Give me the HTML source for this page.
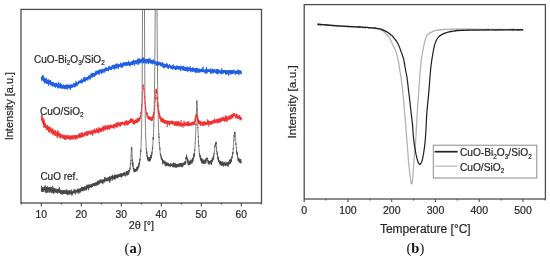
<!DOCTYPE html>
<html><head><meta charset="utf-8"><style>
html,body{margin:0;padding:0;background:#fff;}
svg{display:block;will-change:transform;}
text{font-family:"Liberation Sans",sans-serif;fill:#262626;stroke:#262626;stroke-width:0.2px;}
.serif{font-family:"Liberation Serif",serif;font-weight:bold;fill:#111;stroke:none;}
</style></head><body>
<svg width="550" height="260" viewBox="0 0 550 260">
<rect width="550" height="260" fill="#fff"/>
<defs>
<clipPath id="ca"><rect x="21" y="9.4" width="240.5" height="193.6"/></clipPath>
<clipPath id="cb"><rect x="304.2" y="4.6" width="241.2" height="194.4"/></clipPath>
</defs>

<g clip-path="url(#ca)" fill="none" stroke-linejoin="round">
<polyline stroke="#4a4a4a" stroke-width="0.7" points="41.30,188.5 41.37,189.7 41.44,188.7 41.51,185.7 41.58,189.7 41.65,190.2 41.72,190.1 41.79,191.5 41.86,189.2 41.93,189.9 42.00,191.4 42.07,188.0 42.14,191.7 42.21,191.7 42.28,190.0 42.35,191.9 42.42,190.1 42.49,187.1 42.56,190.6 42.63,189.2 42.70,189.4 42.77,188.9 42.84,191.1 42.91,189.6 42.98,187.5 43.05,189.5 43.12,190.0 43.19,187.5 43.26,188.0 43.33,188.1 43.40,187.7 43.47,189.4 43.54,190.5 43.61,192.0 43.68,190.8 43.75,190.5 43.82,190.8 43.89,191.1 43.96,188.2 44.03,190.0 44.10,189.4 44.17,188.6 44.24,188.1 44.31,188.0 44.38,188.4 44.45,186.8 44.52,189.8 44.59,188.9 44.66,189.1 44.73,189.5 44.80,190.2 44.87,188.0 44.94,188.8 45.01,186.3 45.08,185.3 45.15,185.8 45.22,191.5 45.29,186.0 45.36,189.8 45.43,191.5 45.50,188.3 45.57,191.7 45.64,192.1 45.71,190.6 45.78,192.9 45.85,190.1 45.92,187.9 45.99,190.0 46.06,188.4 46.13,187.0 46.20,187.1 46.27,192.9 46.34,188.3 46.41,189.2 46.48,188.1 46.55,189.4 46.62,188.9 46.69,188.6 46.76,187.3 46.83,187.0 46.90,188.1 46.97,189.8 47.04,192.6 47.11,191.0 47.18,192.2 47.25,190.1 47.32,189.2 47.39,187.3 47.46,189.4 47.53,186.0 47.60,188.9 47.67,191.9 47.74,189.9 47.81,191.2 47.88,188.8 47.95,187.3 48.02,188.7 48.09,188.9 48.16,191.3 48.23,192.5 48.30,188.4 48.37,189.0 48.44,189.3 48.51,189.0 48.58,187.7 48.65,189.7 48.72,190.1 48.79,190.2 48.86,187.8 48.93,189.4 49.00,187.0 49.07,191.0 49.14,188.1 49.21,189.2 49.28,189.0 49.35,188.8 49.42,188.1 49.49,187.1 49.56,192.3 49.63,190.1 49.70,190.1 49.77,192.9 49.84,189.6 49.91,190.6 49.98,189.8 50.05,191.6 50.12,190.6 50.19,190.3 50.26,189.5 50.33,190.3 50.40,191.6 50.47,186.8 50.54,189.7 50.61,189.3 50.68,189.5 50.75,187.0 50.82,191.0 50.89,188.7 50.96,189.6 51.03,189.2 51.10,187.5 51.17,189.3 51.24,187.3 51.31,188.6 51.38,189.6 51.45,190.0 51.52,190.1 51.59,189.9 51.66,193.2 51.73,190.7 51.80,188.3 51.87,189.2 51.94,189.2 52.01,189.9 52.08,189.3 52.15,188.9 52.22,192.5 52.29,190.2 52.36,189.7 52.43,189.9 52.50,189.9 52.57,192.2 52.64,190.9 52.71,191.9 52.78,185.9 52.85,190.7 52.92,191.8 52.99,193.1 53.06,190.4 53.13,187.9 53.20,191.2 53.27,189.5 53.34,187.9 53.41,189.5 53.48,191.9 53.55,192.1 53.62,191.4 53.69,189.0 53.76,194.0 53.83,188.8 53.90,190.4 53.97,188.5 54.04,192.3 54.11,191.1 54.18,191.8 54.25,190.7 54.32,190.5 54.39,190.8 54.46,188.0 54.53,192.0 54.60,191.9 54.67,190.1 54.74,190.6 54.81,191.1 54.88,192.8 54.95,191.3 55.02,190.7 55.09,190.0 55.16,188.7 55.23,189.9 55.30,190.8 55.37,190.4 55.44,190.9 55.51,191.8 55.58,191.4 55.65,191.2 55.72,191.7 55.79,191.1 55.86,190.8 55.93,191.5 56.00,188.5 56.07,192.6 56.14,189.2 56.21,192.0 56.28,190.9 56.35,192.4 56.42,191.0 56.49,189.7 56.56,192.4 56.63,191.2 56.70,191.1 56.77,191.1 56.84,192.4 56.91,192.1 56.98,191.3 57.05,189.0 57.12,190.5 57.19,191.2 57.26,193.5 57.33,191.6 57.40,191.0 57.47,192.7 57.54,191.0 57.61,191.1 57.68,191.4 57.75,189.2 57.82,192.4 57.89,191.8 57.96,190.8 58.03,189.7 58.10,191.5 58.17,193.1 58.24,190.4 58.31,189.9 58.38,191.8 58.45,189.2 58.52,188.4 58.59,190.7 58.66,190.4 58.73,191.0 58.80,190.6 58.87,191.8 58.94,191.1 59.01,190.6 59.08,190.8 59.15,192.2 59.22,192.7 59.29,192.6 59.36,192.3 59.43,187.1 59.50,190.2 59.57,191.1 59.64,191.7 59.71,189.4 59.78,193.3 59.85,191.9 59.92,190.7 59.99,191.8 60.06,191.1 60.13,190.6 60.20,192.2 60.27,191.0 60.34,189.8 60.41,190.8 60.48,191.5 60.55,190.2 60.62,193.3 60.69,190.3 60.76,193.9 60.83,192.8 60.90,190.5 60.97,191.9 61.04,193.2 61.11,191.5 61.18,190.2 61.25,191.9 61.32,194.3 61.39,189.9 61.46,192.5 61.53,191.8 61.60,191.7 61.67,191.3 61.74,191.4 61.81,193.2 61.88,192.6 61.95,190.6 62.02,193.9 62.09,190.2 62.16,192.7 62.23,192.1 62.30,193.4 62.37,192.4 62.44,193.3 62.51,191.9 62.58,193.2 62.65,192.4 62.72,194.7 62.79,191.1 62.86,193.5 62.93,192.6 63.00,192.2 63.07,191.3 63.14,192.6 63.21,190.2 63.28,190.3 63.35,193.0 63.42,190.1 63.49,193.9 63.56,191.7 63.63,192.4 63.70,192.2 63.77,192.6 63.84,191.8 63.91,191.7 63.98,192.0 64.05,193.5 64.12,193.6 64.19,193.8 64.26,192.6 64.33,191.9 64.40,190.1 64.47,193.0 64.54,193.2 64.61,191.7 64.68,193.2 64.75,193.8 64.82,192.3 64.89,193.5 64.96,192.6 65.03,190.1 65.10,191.6 65.17,191.7 65.24,192.9 65.31,191.2 65.38,191.7 65.45,191.1 65.52,192.2 65.59,192.3 65.66,193.5 65.73,193.3 65.80,192.5 65.87,192.6 65.94,192.4 66.01,192.4 66.08,194.2 66.15,189.2 66.22,192.1 66.29,192.7 66.36,193.7 66.43,191.0 66.50,192.7 66.57,193.4 66.64,191.8 66.71,190.0 66.78,191.9 66.85,190.9 66.92,193.1 66.99,191.3 67.06,194.5 67.13,192.5 67.20,191.4 67.27,191.7 67.34,191.0 67.41,192.9 67.48,194.2 67.55,192.1 67.62,193.5 67.69,191.2 67.76,192.8 67.83,195.2 67.90,190.7 67.97,193.9 68.04,193.8 68.11,190.1 68.18,190.7 68.25,191.2 68.32,193.6 68.39,191.9 68.46,192.2 68.53,193.3 68.60,192.6 68.67,192.7 68.74,192.0 68.81,193.8 68.88,191.5 68.95,194.5 69.02,192.0 69.09,191.5 69.16,193.2 69.23,193.0 69.30,190.1 69.37,192.7 69.44,190.8 69.51,191.5 69.58,193.4 69.65,191.4 69.72,192.9 69.79,192.0 69.86,194.8 69.93,192.4 70.00,191.1 70.07,191.1 70.14,191.4 70.21,192.6 70.28,192.5 70.35,193.7 70.42,192.7 70.49,192.6 70.56,192.9 70.63,192.3 70.70,192.8 70.77,193.4 70.84,193.4 70.91,191.8 70.98,190.4 71.05,191.5 71.12,192.8 71.19,189.5 71.26,191.9 71.33,193.0 71.40,191.8 71.47,191.1 71.54,194.6 71.61,194.2 71.68,192.2 71.75,194.1 71.82,194.0 71.89,191.1 71.96,195.7 72.03,191.4 72.10,192.2 72.17,191.2 72.24,192.6 72.31,190.9 72.38,192.5 72.45,193.8 72.52,192.7 72.59,192.1 72.66,194.3 72.73,191.4 72.80,193.6 72.87,192.0 72.94,192.7 73.01,192.4 73.08,192.5 73.15,192.3 73.22,191.4 73.29,191.7 73.36,192.9 73.43,192.2 73.50,190.9 73.57,191.5 73.64,191.5 73.71,192.2 73.78,192.5 73.85,192.4 73.92,191.5 73.99,192.3 74.06,190.6 74.13,188.8 74.20,192.1 74.27,190.2 74.34,191.0 74.41,190.7 74.48,192.9 74.55,190.7 74.62,192.4 74.69,191.5 74.76,190.6 74.83,190.2 74.90,192.6 74.97,192.5 75.04,192.9 75.11,194.1 75.18,192.3 75.25,192.3 75.32,191.8 75.39,192.0 75.46,191.4 75.53,190.8 75.60,194.2 75.67,189.6 75.74,192.1 75.81,192.3 75.88,191.9 75.95,190.6 76.02,191.5 76.09,191.1 76.16,190.4 76.23,191.6 76.30,191.1 76.37,190.9 76.44,192.4 76.51,190.3 76.58,192.0 76.65,190.8 76.72,192.0 76.79,191.5 76.86,191.7 76.93,190.2 77.00,190.5 77.07,190.3 77.14,191.5 77.21,192.2 77.28,192.6 77.35,190.7 77.42,191.3 77.49,189.3 77.56,188.6 77.63,190.1 77.70,190.4 77.77,189.3 77.84,189.0 77.91,191.7 77.98,190.1 78.05,189.0 78.12,193.7 78.19,191.2 78.26,190.6 78.33,191.7 78.40,190.0 78.47,192.7 78.54,189.0 78.61,189.3 78.68,190.6 78.75,189.9 78.82,192.4 78.89,188.8 78.96,189.8 79.03,191.0 79.10,191.3 79.17,191.8 79.24,191.0 79.31,193.2 79.38,190.0 79.45,190.7 79.52,191.5 79.59,190.1 79.66,190.1 79.73,189.9 79.80,189.7 79.87,189.1 79.94,189.7 80.01,188.5 80.08,190.8 80.15,188.4 80.22,192.7 80.29,192.2 80.36,191.5 80.43,190.0 80.50,189.5 80.57,191.6 80.64,190.3 80.71,190.8 80.78,189.2 80.85,191.3 80.92,189.1 80.99,190.1 81.06,188.0 81.13,189.2 81.20,190.5 81.27,189.4 81.34,189.3 81.41,190.8 81.48,189.7 81.55,191.2 81.62,186.9 81.69,190.4 81.76,190.3 81.83,187.9 81.90,188.1 81.97,190.6 82.04,188.3 82.11,188.8 82.18,190.2 82.25,189.1 82.32,190.0 82.39,188.4 82.46,189.8 82.53,190.6 82.60,189.7 82.67,186.8 82.74,190.0 82.81,189.3 82.88,188.2 82.95,190.8 83.02,187.1 83.09,191.3 83.16,188.4 83.23,190.9 83.30,189.0 83.37,187.5 83.44,189.1 83.51,189.3 83.58,189.5 83.65,190.1 83.72,187.8 83.79,189.4 83.86,189.6 83.93,188.4 84.00,187.6 84.07,187.6 84.14,189.5 84.21,189.6 84.28,187.6 84.35,187.0 84.42,190.0 84.49,186.7 84.56,188.6 84.63,187.5 84.70,186.4 84.77,188.5 84.84,188.1 84.91,190.0 84.98,190.9 85.05,188.0 85.12,189.4 85.19,189.4 85.26,187.5 85.33,187.1 85.40,189.9 85.47,187.6 85.54,188.0 85.61,187.6 85.68,187.8 85.75,187.2 85.82,188.7 85.89,189.3 85.96,187.4 86.03,186.2 86.10,187.8 86.17,186.0 86.24,186.9 86.31,189.1 86.38,190.3 86.45,188.0 86.52,186.3 86.59,188.4 86.66,184.9 86.73,186.7 86.80,189.2 86.87,188.3 86.94,185.8 87.01,185.4 87.08,188.3 87.15,187.2 87.22,186.6 87.29,187.7 87.36,186.5 87.43,184.9 87.50,188.1 87.57,186.3 87.64,185.9 87.71,185.5 87.78,187.3 87.85,186.0 87.92,187.7 87.99,186.6 88.06,188.1 88.13,186.4 88.20,186.1 88.27,184.5 88.34,185.5 88.41,187.6 88.48,190.3 88.55,185.2 88.62,185.5 88.69,187.0 88.76,187.2 88.83,185.8 88.90,186.6 88.97,184.7 89.04,186.1 89.11,187.5 89.18,188.3 89.25,186.2 89.32,186.1 89.39,186.9 89.46,187.6 89.53,186.9 89.60,185.4 89.67,186.6 89.74,187.3 89.81,185.4 89.88,184.6 89.95,186.7 90.02,186.5 90.09,187.2 90.16,186.1 90.23,185.3 90.30,185.5 90.37,184.8 90.44,184.8 90.51,185.2 90.58,185.3 90.65,187.1 90.72,184.4 90.79,185.7 90.86,185.1 90.93,187.4 91.00,186.0 91.07,185.2 91.14,186.6 91.21,185.7 91.28,185.0 91.35,187.3 91.42,186.3 91.49,187.5 91.56,186.8 91.63,186.3 91.70,185.6 91.77,184.1 91.84,186.2 91.91,185.4 91.98,186.1 92.05,185.3 92.12,184.5 92.19,184.1 92.26,186.0 92.33,186.7 92.40,184.8 92.47,185.6 92.54,186.7 92.61,184.1 92.68,184.6 92.75,183.7 92.82,186.3 92.89,185.2 92.96,184.4 93.03,183.0 93.10,184.7 93.17,186.0 93.24,184.5 93.31,184.3 93.38,185.5 93.45,183.3 93.52,184.8 93.59,185.4 93.66,183.7 93.73,183.7 93.80,184.9 93.87,184.4 93.94,184.3 94.01,184.7 94.08,184.7 94.15,183.4 94.22,183.7 94.29,184.9 94.36,185.7 94.43,185.9 94.50,183.3 94.57,185.5 94.64,185.1 94.71,184.2 94.78,184.8 94.85,185.1 94.92,186.2 94.99,182.9 95.06,184.8 95.13,183.9 95.20,183.8 95.27,185.3 95.34,184.9 95.41,182.8 95.48,183.6 95.55,184.2 95.62,182.3 95.69,184.8 95.76,183.7 95.83,184.0 95.90,184.2 95.97,185.8 96.04,183.8 96.11,183.3 96.18,185.7 96.25,183.1 96.32,183.0 96.39,182.0 96.46,184.8 96.53,183.8 96.60,184.0 96.67,183.7 96.74,183.3 96.81,182.5 96.88,182.5 96.95,183.9 97.02,183.5 97.09,185.2 97.16,182.4 97.23,182.7 97.30,182.1 97.37,184.8 97.44,181.8 97.51,184.0 97.58,184.8 97.65,182.9 97.72,183.9 97.79,180.6 97.86,182.6 97.93,181.1 98.00,183.2 98.07,182.9 98.14,182.0 98.21,184.0 98.28,183.3 98.35,182.2 98.42,182.2 98.49,181.1 98.56,182.5 98.63,185.1 98.70,181.9 98.77,183.2 98.84,182.0 98.91,183.5 98.98,183.1 99.05,182.3 99.12,180.5 99.19,181.9 99.26,183.9 99.33,182.2 99.40,183.2 99.47,181.9 99.54,180.2 99.61,182.8 99.68,182.7 99.75,181.6 99.82,181.9 99.89,182.6 99.96,181.5 100.03,182.6 100.10,181.9 100.17,179.4 100.24,181.9 100.31,181.4 100.38,181.1 100.45,182.5 100.52,181.4 100.59,182.6 100.66,183.2 100.73,182.1 100.80,180.1 100.87,181.0 100.94,182.9 101.01,181.5 101.08,180.9 101.15,181.7 101.22,182.3 101.29,182.0 101.36,182.4 101.43,180.7 101.50,181.3 101.57,181.3 101.64,181.6 101.71,179.2 101.78,181.3 101.85,180.0 101.92,183.1 101.99,183.2 102.06,183.3 102.13,182.3 102.20,180.8 102.27,182.4 102.34,181.1 102.41,182.0 102.48,180.2 102.55,180.6 102.62,181.7 102.69,183.2 102.76,181.1 102.83,183.7 102.90,184.2 102.97,179.6 103.04,181.0 103.11,179.9 103.18,180.8 103.25,180.4 103.32,180.9 103.39,182.0 103.46,182.0 103.53,181.2 103.60,180.8 103.67,180.9 103.74,180.9 103.81,181.4 103.88,180.7 103.95,181.3 104.02,179.2 104.09,181.6 104.16,182.6 104.23,180.8 104.30,179.0 104.37,182.1 104.44,180.1 104.51,177.1 104.58,180.2 104.65,181.1 104.72,180.9 104.79,181.8 104.86,181.1 104.93,180.5 105.00,178.1 105.07,179.0 105.14,180.5 105.21,181.0 105.28,179.0 105.35,179.5 105.42,180.7 105.49,177.9 105.56,177.9 105.63,179.8 105.70,180.3 105.77,179.5 105.84,177.4 105.91,180.0 105.98,178.4 106.05,180.7 106.12,179.8 106.19,180.2 106.26,180.6 106.33,179.2 106.40,180.7 106.47,181.2 106.54,180.2 106.61,181.2 106.68,179.0 106.75,180.7 106.82,179.9 106.89,178.5 106.96,179.5 107.03,179.0 107.10,178.9 107.17,179.6 107.24,180.7 107.31,179.1 107.38,179.6 107.45,177.7 107.52,179.5 107.59,180.7 107.66,180.3 107.73,179.9 107.80,178.7 107.87,178.2 107.94,179.1 108.01,177.7 108.08,177.8 108.15,180.2 108.22,178.1 108.29,181.2 108.36,177.5 108.43,179.6 108.50,177.7 108.57,179.2 108.64,177.8 108.71,179.0 108.78,178.8 108.85,178.4 108.92,179.5 108.99,180.6 109.06,178.2 109.13,179.8 109.20,178.9 109.27,178.7 109.34,181.3 109.41,176.3 109.48,177.9 109.55,176.6 109.62,178.3 109.69,178.4 109.76,183.0 109.83,179.0 109.90,180.6 109.97,180.0 110.04,178.0 110.11,179.0 110.18,180.4 110.25,178.6 110.32,178.7 110.39,179.0 110.46,176.7 110.53,177.4 110.60,178.7 110.67,178.9 110.74,177.2 110.81,177.9 110.88,178.1 110.95,178.0 111.02,179.0 111.09,178.3 111.16,178.3 111.23,176.5 111.30,176.9 111.37,178.5 111.44,176.2 111.51,178.3 111.58,177.3 111.65,177.1 111.72,178.7 111.79,177.2 111.86,176.9 111.93,177.1 112.00,178.0 112.07,181.0 112.14,175.4 112.21,177.8 112.28,177.5 112.35,178.9 112.42,177.3 112.49,174.9 112.56,179.2 112.63,176.4 112.70,177.6 112.77,176.1 112.84,176.4 112.91,177.0 112.98,178.6 113.05,178.5 113.12,176.8 113.19,178.1 113.26,177.1 113.33,177.6 113.40,177.6 113.47,178.1 113.54,176.7 113.61,177.2 113.68,177.6 113.75,177.4 113.82,176.4 113.89,179.2 113.96,176.7 114.03,178.1 114.10,177.4 114.17,178.6 114.24,174.7 114.31,179.5 114.38,176.9 114.45,175.7 114.52,177.2 114.59,179.6 114.66,177.6 114.73,175.6 114.80,176.5 114.87,178.5 114.94,175.3 115.01,176.7 115.08,176.6 115.15,179.3 115.22,176.5 115.29,178.3 115.36,176.0 115.43,175.9 115.50,177.9 115.57,177.4 115.64,174.7 115.71,177.4 115.78,177.4 115.85,175.9 115.92,176.9 115.99,176.9 116.06,176.0 116.13,175.9 116.20,175.8 116.27,176.2 116.34,175.0 116.41,176.4 116.48,174.7 116.55,176.5 116.62,176.3 116.69,175.2 116.76,177.3 116.83,178.5 116.90,177.8 116.97,174.7 117.04,177.7 117.11,176.5 117.18,176.2 117.25,175.5 117.32,176.2 117.39,177.7 117.46,176.7 117.53,175.6 117.60,175.3 117.67,175.6 117.74,176.7 117.81,178.1 117.88,174.8 117.95,176.0 118.02,175.5 118.09,175.1 118.16,176.4 118.23,176.5 118.30,174.2 118.37,174.7 118.44,177.2 118.51,176.2 118.58,176.4 118.65,175.2 118.72,175.3 118.79,176.2 118.86,175.1 118.93,174.4 119.00,175.6 119.07,176.6 119.14,174.4 119.21,176.8 119.28,176.4 119.35,174.5 119.42,175.5 119.49,175.4 119.56,176.2 119.63,176.2 119.70,173.9 119.77,173.9 119.84,176.6 119.91,175.5 119.98,175.8 120.05,175.7 120.12,177.0 120.19,173.9 120.26,176.5 120.33,174.3 120.40,176.0 120.47,176.7 120.54,173.6 120.61,175.6 120.68,174.8 120.75,174.8 120.82,175.1 120.89,173.9 120.96,173.9 121.03,175.8 121.10,176.0 121.17,174.3 121.24,173.3 121.31,177.6 121.38,176.2 121.45,175.3 121.52,173.7 121.59,174.2 121.66,175.1 121.73,173.7 121.80,176.6 121.87,174.9 121.94,175.2 122.01,173.6 122.08,173.7 122.15,173.8 122.22,175.0 122.29,174.4 122.36,174.3 122.43,175.0 122.50,174.9 122.57,176.3 122.64,174.3 122.71,173.4 122.78,174.5 122.85,176.2 122.92,173.8 122.99,174.5 123.06,174.0 123.13,174.9 123.20,174.7 123.27,173.5 123.34,174.1 123.41,175.4 123.48,175.6 123.55,175.3 123.62,175.3 123.69,173.9 123.76,173.8 123.83,175.3 123.90,172.9 123.97,174.1 124.04,172.1 124.11,173.7 124.18,173.3 124.25,172.7 124.32,174.7 124.39,173.2 124.46,173.6 124.53,173.7 124.60,173.2 124.67,175.6 124.74,173.4 124.81,174.1 124.88,172.4 124.95,173.3 125.02,173.5 125.09,173.5 125.16,173.2 125.23,174.0 125.30,175.5 125.37,173.6 125.44,173.6 125.51,173.3 125.58,176.6 125.65,175.5 125.72,174.3 125.79,174.4 125.86,172.8 125.93,173.4 126.00,173.8 126.07,173.6 126.14,172.5 126.21,172.6 126.28,174.0 126.35,173.8 126.42,171.0 126.49,173.4 126.56,174.7 126.63,172.6 126.70,173.5 126.77,171.6 126.84,174.1 126.91,171.9 126.98,171.7 127.05,172.7 127.12,175.7 127.19,172.3 127.26,171.5 127.33,173.4 127.40,173.1 127.47,174.7 127.54,171.4 127.61,171.0 127.68,172.3 127.75,173.1 127.82,173.0 127.89,173.8 127.96,170.8 128.03,171.5 128.10,172.2 128.17,173.3 128.24,172.8 128.31,171.7 128.38,171.0 128.45,173.0 128.52,173.0 128.59,175.0 128.66,171.6 128.73,173.6 128.80,170.3 128.87,170.9 128.94,170.7 129.01,170.8 129.08,170.2 129.15,170.5 129.22,170.9 129.29,170.3 129.36,171.4 129.43,170.4 129.50,170.3 129.57,171.8 129.64,170.2 129.71,169.8 129.78,169.4 129.85,169.2 129.92,169.5 129.99,167.6 130.06,169.5 130.13,169.6 130.20,168.7 130.27,166.4 130.34,164.6 130.41,165.3 130.48,165.4 130.55,165.4 130.62,163.5 130.69,162.5 130.76,163.7 130.83,160.2 130.90,161.0 130.97,159.6 131.04,155.8 131.11,156.2 131.18,153.8 131.25,152.0 131.32,149.6 131.39,148.6 131.46,149.8 131.53,148.1 131.60,148.4 131.67,146.8 131.74,147.9 131.81,148.6 131.88,148.1 131.95,149.1 132.02,152.8 132.09,153.9 132.16,154.0 132.23,156.4 132.30,158.5 132.37,161.1 132.44,159.2 132.51,161.9 132.58,164.5 132.65,163.1 132.72,165.4 132.79,161.6 132.86,166.7 132.93,165.7 133.00,164.1 133.07,167.5 133.14,168.2 133.21,168.8 133.28,169.1 133.35,168.0 133.42,167.5 133.49,168.0 133.56,168.7 133.63,169.4 133.70,168.6 133.77,169.4 133.84,170.5 133.91,170.0 133.98,172.3 134.05,172.3 134.12,168.6 134.19,169.4 134.26,168.6 134.33,168.9 134.40,170.9 134.47,169.2 134.54,169.2 134.61,170.1 134.68,171.3 134.75,170.1 134.82,170.1 134.89,171.5 134.96,171.1 135.03,171.0 135.10,171.6 135.17,169.4 135.24,170.8 135.31,169.8 135.38,171.7 135.45,171.4 135.52,169.3 135.59,172.0 135.66,169.1 135.73,171.8 135.80,170.6 135.87,169.4 135.94,169.1 136.01,170.0 136.08,170.2 136.15,169.4 136.22,170.8 136.29,168.5 136.36,170.1 136.43,170.0 136.50,167.8 136.57,170.2 136.64,168.4 136.71,166.9 136.78,169.0 136.85,169.4 136.92,170.6 136.99,168.9 137.06,171.0 137.13,170.9 137.20,170.4 137.27,170.6 137.34,169.4 137.41,168.3 137.48,169.5 137.55,169.8 137.62,168.8 137.69,168.1 137.76,166.5 137.83,168.9 137.90,168.4 137.97,166.4 138.04,167.8 138.11,168.4 138.18,167.3 138.25,168.1 138.32,167.9 138.39,165.2 138.46,166.4 138.53,167.1 138.60,167.4 138.67,167.7 138.74,163.7 138.81,165.6 138.88,166.2 138.95,166.5 139.02,166.8 139.09,163.5 139.16,163.9 139.23,162.8 139.30,164.6 139.37,161.9 139.44,164.4 139.51,163.7 139.58,162.8 139.65,159.4 139.72,160.7 139.79,161.8 139.86,158.9 139.93,159.7 140.00,159.3 140.07,159.9 140.14,158.6 140.21,158.0 140.28,156.5 140.35,156.3 140.42,155.3 140.49,155.5 140.56,153.6 140.63,154.0 140.70,149.9 140.77,152.1 140.84,149.4 140.91,149.6 140.98,147.0 141.05,146.4 141.12,145.5 141.19,141.4 141.26,140.2 141.33,137.8 141.40,135.9 141.47,131.3 141.54,130.1 141.61,126.8 141.68,122.7 141.75,119.4 141.82,113.5 141.89,111.8 141.96,105.0 142.03,100.2 142.10,89.6 142.17,80.6 142.24,72.1 142.31,58.0 142.38,46.1 142.45,28.2 142.52,8.1 142.59,-16.3 142.66,-47.9 142.73,-85.4 142.80,-137.9 142.87,-207.3 142.94,-295.6 143.01,-424.6 143.08,-604.4 143.15,-875.9 143.22,-1291.7 143.29,-1944.9 143.36,-2944.8 143.43,-4172.7 143.50,-4829.5 143.57,-4172.4 143.64,-2942.7 143.71,-1948.0 143.78,-1292.5 143.85,-874.2 143.92,-606.8 143.99,-424.1 144.06,-296.1 144.13,-206.6 144.20,-139.9 144.27,-89.2 144.34,-49.9 144.41,-18.4 144.48,7.5 144.55,29.1 144.62,45.6 144.69,57.9 144.76,69.5 144.83,81.1 144.90,86.8 144.97,95.8 145.04,102.3 145.11,107.1 145.18,112.1 145.25,118.0 145.32,119.6 145.39,123.8 145.46,127.2 145.53,130.8 145.60,131.6 145.67,136.6 145.74,137.1 145.81,139.0 145.88,140.5 145.95,141.7 146.02,142.8 146.09,146.5 146.16,146.6 146.23,147.3 146.30,149.5 146.37,148.5 146.44,150.9 146.51,151.0 146.58,150.7 146.65,153.2 146.72,151.3 146.79,154.3 146.86,153.1 146.93,155.1 147.00,156.7 147.07,156.2 147.14,155.2 147.21,156.3 147.28,156.2 147.35,155.6 147.42,156.0 147.49,157.6 147.56,158.4 147.63,156.1 147.70,158.2 147.77,159.1 147.84,158.8 147.91,157.7 147.98,160.2 148.05,157.8 148.12,160.0 148.19,161.2 148.26,157.2 148.33,159.9 148.40,160.1 148.47,160.1 148.54,159.0 148.61,159.6 148.68,158.4 148.75,160.2 148.82,160.7 148.89,159.4 148.96,159.1 149.03,159.6 149.10,160.1 149.17,160.2 149.24,160.0 149.31,160.2 149.38,158.6 149.45,157.0 149.52,160.7 149.59,161.6 149.66,158.3 149.73,159.1 149.80,160.1 149.87,160.8 149.94,160.3 150.01,160.9 150.08,159.3 150.15,159.8 150.22,159.6 150.29,158.6 150.36,160.3 150.43,159.5 150.50,159.7 150.57,158.0 150.64,159.4 150.71,156.9 150.78,158.3 150.85,154.7 150.92,156.3 150.99,158.1 151.06,156.5 151.13,156.9 151.20,154.7 151.27,157.9 151.34,156.6 151.41,155.6 151.48,155.8 151.55,155.3 151.62,156.2 151.69,154.5 151.76,152.2 151.83,153.1 151.90,154.4 151.97,153.2 152.04,151.6 152.11,152.2 152.18,151.1 152.25,151.1 152.32,148.1 152.39,148.2 152.46,149.3 152.53,147.6 152.60,147.5 152.67,148.5 152.74,145.2 152.81,144.9 152.88,143.1 152.95,142.0 153.02,141.6 153.09,139.0 153.16,137.0 153.23,139.7 153.30,136.7 153.37,136.6 153.44,134.0 153.51,132.4 153.58,131.2 153.65,129.4 153.72,125.2 153.79,125.8 153.86,121.0 153.93,119.8 154.00,119.7 154.07,114.0 154.14,112.6 154.21,106.9 154.28,104.3 154.35,99.6 154.42,95.6 154.49,89.4 154.56,84.1 154.63,79.8 154.70,71.5 154.77,65.5 154.84,59.8 154.91,50.3 154.98,41.3 155.05,31.5 155.12,22.6 155.19,10.9 155.26,-0.4 155.33,-13.5 155.40,-24.6 155.47,-41.1 155.54,-57.1 155.61,-69.1 155.68,-83.2 155.75,-96.2 155.82,-110.1 155.89,-117.0 155.96,-125.9 156.03,-130.7 156.10,-134.1 156.17,-130.1 156.24,-126.0 156.31,-116.8 156.38,-108.8 156.45,-97.8 156.52,-83.1 156.59,-70.3 156.66,-54.5 156.73,-41.9 156.80,-26.9 156.87,-13.6 156.94,-0.8 157.01,10.6 157.08,21.4 157.15,32.5 157.22,41.4 157.29,51.0 157.36,58.6 157.43,63.7 157.50,72.9 157.57,80.8 157.64,85.2 157.71,90.8 157.78,95.4 157.85,98.7 157.92,101.8 157.99,107.9 158.06,111.6 158.13,114.3 158.20,117.0 158.27,119.7 158.34,121.7 158.41,124.4 158.48,126.3 158.55,128.6 158.62,129.1 158.69,131.2 158.76,134.1 158.83,134.7 158.90,133.8 158.97,137.9 159.04,136.5 159.11,142.3 159.18,142.1 159.25,143.1 159.32,142.6 159.39,143.0 159.46,144.9 159.53,146.0 159.60,145.9 159.67,147.7 159.74,148.9 159.81,149.5 159.88,148.3 159.95,147.7 160.02,150.6 160.09,150.4 160.16,152.2 160.23,154.0 160.30,154.5 160.37,153.4 160.44,154.7 160.51,155.7 160.58,154.3 160.65,155.0 160.72,156.0 160.79,155.3 160.86,155.1 160.93,155.2 161.00,156.3 161.07,155.9 161.14,157.7 161.21,156.7 161.28,159.0 161.35,158.9 161.42,156.5 161.49,159.2 161.56,157.8 161.63,160.0 161.70,159.2 161.77,158.8 161.84,159.8 161.91,158.6 161.98,159.8 162.05,160.0 162.12,159.6 162.19,160.3 162.26,158.9 162.33,160.8 162.40,159.0 162.47,161.1 162.54,161.1 162.61,161.5 162.68,160.2 162.75,164.3 162.82,160.8 162.89,161.3 162.96,160.4 163.03,162.9 163.10,161.0 163.17,162.7 163.24,160.6 163.31,162.1 163.38,161.4 163.45,163.0 163.52,161.7 163.59,161.2 163.66,162.7 163.73,161.0 163.80,161.3 163.87,163.2 163.94,160.4 164.01,163.4 164.08,162.2 164.15,161.7 164.22,163.0 164.29,163.5 164.36,162.2 164.43,162.7 164.50,163.9 164.57,163.9 164.64,163.0 164.71,162.3 164.78,162.2 164.85,162.6 164.92,164.0 164.99,164.0 165.06,163.7 165.13,165.0 165.20,163.2 165.27,163.1 165.34,163.2 165.41,165.7 165.48,161.4 165.55,164.0 165.62,164.2 165.69,163.8 165.76,166.4 165.83,165.1 165.90,164.7 165.97,162.9 166.04,164.5 166.11,163.6 166.18,164.1 166.25,164.3 166.32,163.6 166.39,164.8 166.46,165.9 166.53,165.3 166.60,164.4 166.67,162.1 166.74,165.4 166.81,165.4 166.88,164.1 166.95,163.8 167.02,165.1 167.09,163.5 167.16,165.3 167.23,163.3 167.30,163.5 167.37,164.5 167.44,162.9 167.51,164.5 167.58,165.1 167.65,163.1 167.72,165.6 167.79,164.0 167.86,165.2 167.93,164.9 168.00,164.2 168.07,164.1 168.14,162.8 168.21,164.0 168.28,163.9 168.35,166.5 168.42,165.9 168.49,163.3 168.56,165.6 168.63,165.0 168.70,164.4 168.77,165.3 168.84,165.7 168.91,164.2 168.98,164.6 169.05,165.1 169.12,163.8 169.19,165.1 169.26,164.8 169.33,164.2 169.40,164.0 169.47,165.3 169.54,165.9 169.61,165.3 169.68,164.1 169.75,165.8 169.82,165.2 169.89,165.7 169.96,166.3 170.03,164.1 170.10,164.9 170.17,164.4 170.24,164.1 170.31,167.2 170.38,166.1 170.45,163.2 170.52,165.6 170.59,164.5 170.66,166.3 170.73,165.2 170.80,164.9 170.87,165.3 170.94,165.6 171.01,165.2 171.08,164.9 171.15,165.0 171.22,165.7 171.29,164.0 171.36,165.2 171.43,165.1 171.50,164.7 171.57,166.0 171.64,163.8 171.71,164.8 171.78,164.3 171.85,165.8 171.92,164.7 171.99,165.3 172.06,165.7 172.13,163.5 172.20,165.7 172.27,164.4 172.34,165.0 172.41,165.1 172.48,166.1 172.55,166.1 172.62,167.2 172.69,165.5 172.76,164.8 172.83,164.7 172.90,166.0 172.97,167.0 173.04,165.7 173.11,164.7 173.18,165.6 173.25,165.6 173.32,165.3 173.39,164.5 173.46,162.6 173.53,164.7 173.60,166.4 173.67,165.5 173.74,162.9 173.81,165.3 173.88,163.3 173.95,167.5 174.02,165.5 174.09,164.0 174.16,166.2 174.23,164.5 174.30,165.9 174.37,165.4 174.44,164.1 174.51,166.0 174.58,163.9 174.65,166.8 174.72,165.4 174.79,164.2 174.86,163.4 174.93,167.1 175.00,166.9 175.07,164.0 175.14,167.1 175.21,165.5 175.28,165.1 175.35,165.2 175.42,165.0 175.49,166.9 175.56,165.5 175.63,163.3 175.70,167.6 175.77,166.3 175.84,164.2 175.91,164.9 175.98,164.3 176.05,165.4 176.12,165.7 176.19,165.6 176.26,164.7 176.33,164.5 176.40,166.2 176.47,165.2 176.54,167.7 176.61,164.4 176.68,166.1 176.75,165.4 176.82,164.5 176.89,166.8 176.96,165.4 177.03,164.3 177.10,164.9 177.17,166.4 177.24,164.0 177.31,166.8 177.38,166.0 177.45,165.0 177.52,166.7 177.59,167.1 177.66,165.9 177.73,165.4 177.80,167.2 177.87,166.9 177.94,164.3 178.01,165.0 178.08,165.0 178.15,164.8 178.22,163.6 178.29,166.2 178.36,165.3 178.43,165.3 178.50,166.7 178.57,164.6 178.64,165.1 178.71,165.5 178.78,164.7 178.85,165.1 178.92,166.0 178.99,165.2 179.06,166.6 179.13,164.4 179.20,165.4 179.27,163.6 179.34,165.0 179.41,164.4 179.48,166.6 179.55,165.9 179.62,165.7 179.69,167.1 179.76,166.7 179.83,165.9 179.90,164.4 179.97,163.5 180.04,165.1 180.11,164.7 180.18,164.4 180.25,164.8 180.32,163.3 180.39,166.7 180.46,163.8 180.53,164.3 180.60,165.6 180.67,163.3 180.74,166.0 180.81,166.0 180.88,164.7 180.95,163.8 181.02,164.5 181.09,163.0 181.16,166.5 181.23,165.0 181.30,164.1 181.37,163.9 181.44,165.5 181.51,166.5 181.58,163.5 181.65,164.2 181.72,162.9 181.79,165.6 181.86,165.0 181.93,167.3 182.00,164.7 182.07,164.3 182.14,164.0 182.21,165.7 182.28,163.0 182.35,165.5 182.42,165.0 182.49,164.1 182.56,163.7 182.63,165.8 182.70,166.7 182.77,164.1 182.84,165.2 182.91,166.5 182.98,163.9 183.05,164.2 183.12,163.2 183.19,164.3 183.26,164.3 183.33,163.9 183.40,163.6 183.47,162.6 183.54,162.8 183.61,163.2 183.68,164.9 183.75,163.6 183.82,163.2 183.89,164.8 183.96,164.7 184.03,163.2 184.10,163.3 184.17,164.6 184.24,164.2 184.31,162.9 184.38,164.0 184.45,163.6 184.52,164.8 184.59,162.5 184.66,164.3 184.73,163.7 184.80,162.1 184.87,164.2 184.94,163.9 185.01,161.4 185.08,164.8 185.15,161.3 185.22,161.3 185.29,161.8 185.36,162.8 185.43,162.4 185.50,161.4 185.57,162.8 185.64,161.5 185.71,162.3 185.78,163.6 185.85,160.4 185.92,157.0 185.99,159.0 186.06,158.0 186.13,159.0 186.20,158.7 186.27,156.9 186.34,156.7 186.41,157.5 186.48,157.4 186.55,154.7 186.62,158.6 186.69,157.6 186.76,157.7 186.83,158.2 186.90,156.9 186.97,158.2 187.04,159.7 187.11,160.1 187.18,159.7 187.25,159.2 187.32,158.8 187.39,161.5 187.46,160.9 187.53,160.1 187.60,158.4 187.67,160.0 187.74,159.1 187.81,162.8 187.88,161.8 187.95,160.9 188.02,161.5 188.09,164.9 188.16,163.5 188.23,160.7 188.30,162.1 188.37,161.0 188.44,160.5 188.51,162.7 188.58,165.3 188.65,164.4 188.72,162.7 188.79,162.3 188.86,163.0 188.93,163.9 189.00,161.2 189.07,160.7 189.14,165.0 189.21,163.2 189.28,164.7 189.35,163.1 189.42,164.5 189.49,162.2 189.56,163.4 189.63,164.6 189.70,164.0 189.77,162.3 189.84,163.9 189.91,162.1 189.98,161.2 190.05,163.4 190.12,164.4 190.19,163.7 190.26,161.3 190.33,163.7 190.40,163.4 190.47,162.1 190.54,159.8 190.61,163.7 190.68,163.5 190.75,163.0 190.82,160.5 190.89,160.7 190.96,163.5 191.03,163.2 191.10,162.8 191.17,161.9 191.24,162.6 191.31,161.4 191.38,161.6 191.45,160.9 191.52,162.2 191.59,161.3 191.66,162.8 191.73,162.5 191.80,160.6 191.87,163.6 191.94,160.1 192.01,161.8 192.08,162.4 192.15,162.5 192.22,158.4 192.29,162.0 192.36,162.1 192.43,162.3 192.50,157.9 192.57,159.6 192.64,160.1 192.71,159.6 192.78,161.5 192.85,159.0 192.92,161.0 192.99,160.1 193.06,157.6 193.13,157.9 193.20,158.3 193.27,158.7 193.34,159.5 193.41,157.9 193.48,158.9 193.55,155.8 193.62,153.9 193.69,156.7 193.76,157.3 193.83,156.0 193.90,154.9 193.97,156.2 194.04,157.5 194.11,154.8 194.18,153.6 194.25,153.0 194.32,155.8 194.39,152.9 194.46,153.1 194.53,153.2 194.60,152.4 194.67,149.5 194.74,150.9 194.81,150.0 194.88,148.8 194.95,148.5 195.02,145.7 195.09,145.3 195.16,143.7 195.23,144.0 195.30,141.1 195.37,141.0 195.44,137.8 195.51,137.4 195.58,135.5 195.65,134.1 195.72,132.5 195.79,130.2 195.86,128.1 195.93,123.8 196.00,125.2 196.07,120.9 196.14,119.0 196.21,115.9 196.28,115.6 196.35,111.0 196.42,110.3 196.49,109.0 196.56,107.6 196.63,105.4 196.70,103.4 196.77,100.3 196.84,102.6 196.91,102.3 196.98,102.2 197.05,102.8 197.12,103.1 197.19,103.8 197.26,107.4 197.33,109.6 197.40,109.1 197.47,113.7 197.54,115.3 197.61,118.4 197.68,120.1 197.75,123.5 197.82,125.7 197.89,127.7 197.96,127.2 198.03,131.8 198.10,132.8 198.17,133.3 198.24,137.0 198.31,136.3 198.38,140.3 198.45,142.6 198.52,141.4 198.59,144.3 198.66,144.9 198.73,146.2 198.80,144.9 198.87,148.0 198.94,148.3 199.01,149.8 199.08,149.7 199.15,151.7 199.22,151.4 199.29,152.5 199.36,153.8 199.43,153.0 199.50,154.5 199.57,154.1 199.64,154.9 199.71,154.1 199.78,156.0 199.85,156.8 199.92,155.7 199.99,157.0 200.06,156.9 200.13,155.5 200.20,157.4 200.27,158.8 200.34,157.0 200.41,155.7 200.48,158.2 200.55,157.5 200.62,160.6 200.69,158.6 200.76,158.8 200.83,158.2 200.90,159.4 200.97,158.6 201.04,158.4 201.11,159.5 201.18,158.8 201.25,161.3 201.32,158.6 201.39,160.0 201.46,159.4 201.53,158.7 201.60,162.3 201.67,158.1 201.74,162.2 201.81,159.1 201.88,160.9 201.95,163.4 202.02,158.5 202.09,159.4 202.16,162.5 202.23,161.3 202.30,160.6 202.37,161.2 202.44,160.2 202.51,161.5 202.58,163.1 202.65,161.0 202.72,161.7 202.79,162.9 202.86,163.8 202.93,161.0 203.00,162.0 203.07,161.1 203.14,161.0 203.21,161.3 203.28,161.1 203.35,159.8 203.42,159.6 203.49,161.0 203.56,162.0 203.63,163.2 203.70,161.3 203.77,161.7 203.84,162.6 203.91,162.7 203.98,161.8 204.05,161.8 204.12,164.0 204.19,161.5 204.26,161.3 204.33,160.1 204.40,162.4 204.47,161.6 204.54,164.0 204.61,161.4 204.68,162.7 204.75,162.8 204.82,163.6 204.89,160.2 204.96,163.4 205.03,161.6 205.10,161.4 205.17,161.1 205.24,161.0 205.31,161.0 205.38,158.7 205.45,161.8 205.52,161.2 205.59,160.0 205.66,160.9 205.73,163.4 205.80,161.1 205.87,160.2 205.94,162.4 206.01,159.4 206.08,160.0 206.15,159.4 206.22,159.6 206.29,160.6 206.36,160.3 206.43,158.7 206.50,159.2 206.57,159.3 206.64,158.6 206.71,159.0 206.78,158.1 206.85,158.0 206.92,158.9 206.99,157.6 207.06,159.3 207.13,158.6 207.20,157.9 207.27,158.3 207.34,158.6 207.41,159.0 207.48,159.5 207.55,159.2 207.62,158.7 207.69,161.4 207.76,160.9 207.83,160.2 207.90,161.3 207.97,160.7 208.04,160.2 208.11,160.7 208.18,163.8 208.25,162.0 208.32,162.2 208.39,160.7 208.46,161.9 208.53,163.8 208.60,161.9 208.67,162.7 208.74,163.0 208.81,162.3 208.88,163.4 208.95,162.0 209.02,162.3 209.09,161.1 209.16,164.8 209.23,162.3 209.30,162.1 209.37,163.5 209.44,161.5 209.51,162.0 209.58,161.2 209.65,162.1 209.72,161.7 209.79,162.7 209.86,162.0 209.93,161.4 210.00,161.8 210.07,162.0 210.14,161.5 210.21,163.1 210.28,162.8 210.35,162.2 210.42,160.7 210.49,162.6 210.56,160.6 210.63,162.2 210.70,162.0 210.77,161.3 210.84,161.0 210.91,161.1 210.98,164.1 211.05,161.5 211.12,161.5 211.19,162.8 211.26,162.1 211.33,162.8 211.40,160.2 211.47,160.3 211.54,165.1 211.61,161.3 211.68,161.0 211.75,161.4 211.82,162.2 211.89,159.7 211.96,161.3 212.03,160.8 212.10,161.5 212.17,160.9 212.24,160.0 212.31,159.5 212.38,157.6 212.45,161.3 212.52,158.4 212.59,159.4 212.66,161.6 212.73,159.1 212.80,160.1 212.87,159.0 212.94,159.8 213.01,158.9 213.08,158.0 213.15,159.9 213.22,157.8 213.29,156.4 213.36,157.3 213.43,157.9 213.50,155.8 213.57,157.6 213.64,157.2 213.71,158.4 213.78,155.0 213.85,156.0 213.92,153.0 213.99,154.0 214.06,154.1 214.13,154.0 214.20,153.0 214.27,152.4 214.34,151.3 214.41,150.9 214.48,151.2 214.55,150.9 214.62,150.4 214.69,150.2 214.76,149.8 214.83,145.8 214.90,146.6 214.97,146.4 215.04,145.3 215.11,146.6 215.18,145.8 215.25,144.3 215.32,144.2 215.39,145.1 215.46,143.0 215.53,142.8 215.60,144.0 215.67,143.4 215.74,144.5 215.81,143.4 215.88,144.0 215.95,142.9 216.02,142.7 216.09,144.2 216.16,141.7 216.23,145.6 216.30,146.7 216.37,146.3 216.44,146.6 216.51,148.7 216.58,148.1 216.65,149.8 216.72,151.8 216.79,150.8 216.86,151.6 216.93,151.7 217.00,152.1 217.07,152.7 217.14,153.0 217.21,154.6 217.28,152.2 217.35,154.1 217.42,155.6 217.49,154.4 217.56,155.6 217.63,155.4 217.70,157.0 217.77,157.8 217.84,158.8 217.91,158.1 217.98,157.1 218.05,158.5 218.12,159.1 218.19,160.3 218.26,156.6 218.33,159.6 218.40,157.5 218.47,160.5 218.54,160.4 218.61,160.6 218.68,161.3 218.75,160.9 218.82,159.9 218.89,161.2 218.96,162.3 219.03,161.0 219.10,161.3 219.17,160.1 219.24,162.8 219.31,161.1 219.38,160.9 219.45,161.4 219.52,161.0 219.59,161.8 219.66,163.6 219.73,163.2 219.80,163.9 219.87,164.1 219.94,161.6 220.01,163.2 220.08,164.4 220.15,165.3 220.22,161.3 220.29,161.4 220.36,163.5 220.43,162.7 220.50,162.0 220.57,163.6 220.64,162.4 220.71,160.8 220.78,163.3 220.85,163.5 220.92,164.1 220.99,164.5 221.06,163.7 221.13,163.3 221.20,162.9 221.27,161.8 221.34,163.2 221.41,164.8 221.48,164.5 221.55,166.0 221.62,163.7 221.69,161.9 221.76,164.8 221.83,165.0 221.90,162.7 221.97,162.2 222.04,164.2 222.11,164.8 222.18,162.8 222.25,163.7 222.32,163.2 222.39,162.8 222.46,162.7 222.53,164.3 222.60,163.7 222.67,163.4 222.74,161.3 222.81,166.1 222.88,163.2 222.95,164.1 223.02,163.0 223.09,164.7 223.16,162.6 223.23,164.4 223.30,164.1 223.37,165.3 223.44,163.1 223.51,163.6 223.58,164.0 223.65,166.6 223.72,162.7 223.79,164.6 223.86,163.6 223.93,164.7 224.00,165.0 224.07,164.5 224.14,164.6 224.21,164.6 224.28,163.7 224.35,164.1 224.42,162.5 224.49,163.9 224.56,163.5 224.63,164.1 224.70,165.1 224.77,164.7 224.84,164.8 224.91,165.5 224.98,161.7 225.05,164.8 225.12,164.3 225.19,164.2 225.26,162.9 225.33,164.9 225.40,165.5 225.47,165.4 225.54,164.2 225.61,165.0 225.68,165.3 225.75,166.2 225.82,165.6 225.89,164.4 225.96,164.3 226.03,164.4 226.10,164.4 226.17,163.6 226.24,165.0 226.31,163.4 226.38,163.2 226.45,164.5 226.52,163.5 226.59,163.8 226.66,161.8 226.73,164.9 226.80,164.0 226.87,163.9 226.94,164.5 227.01,164.2 227.08,163.2 227.15,166.1 227.22,163.4 227.29,165.0 227.36,165.9 227.43,163.2 227.50,163.9 227.57,162.9 227.64,164.9 227.71,163.4 227.78,162.5 227.85,165.1 227.92,164.7 227.99,162.6 228.06,164.9 228.13,163.8 228.20,166.5 228.27,165.4 228.34,162.8 228.41,163.1 228.48,162.4 228.55,163.5 228.62,163.3 228.69,164.1 228.76,163.3 228.83,161.5 228.90,162.2 228.97,164.6 229.04,164.3 229.11,162.8 229.18,162.8 229.25,162.7 229.32,162.8 229.39,160.9 229.46,163.7 229.53,161.9 229.60,162.7 229.67,159.7 229.74,162.7 229.81,163.8 229.88,159.8 229.95,163.9 230.02,162.6 230.09,161.2 230.16,160.2 230.23,163.1 230.30,162.1 230.37,162.3 230.44,161.3 230.51,160.6 230.58,162.3 230.65,160.2 230.72,162.1 230.79,159.2 230.86,159.9 230.93,159.1 231.00,162.0 231.07,158.5 231.14,159.0 231.21,160.9 231.28,160.2 231.35,162.2 231.42,161.6 231.49,160.1 231.56,159.9 231.63,157.0 231.70,157.8 231.77,158.1 231.84,158.1 231.91,156.5 231.98,156.7 232.05,156.5 232.12,158.3 232.19,157.3 232.26,156.1 232.33,155.8 232.40,156.0 232.47,154.5 232.54,154.6 232.61,152.5 232.68,154.7 232.75,154.5 232.82,153.3 232.89,152.9 232.96,152.2 233.03,153.4 233.10,150.7 233.17,148.4 233.24,148.0 233.31,149.1 233.38,148.7 233.45,147.6 233.52,146.8 233.59,145.2 233.66,142.4 233.73,142.3 233.80,140.1 233.87,140.7 233.94,138.6 234.01,139.2 234.08,138.0 234.15,135.0 234.22,137.1 234.29,136.2 234.36,133.0 234.43,134.0 234.50,134.0 234.57,132.4 234.64,133.3 234.71,132.3 234.78,133.1 234.85,132.2 234.92,131.9 234.99,133.0 235.06,133.7 235.13,133.7 235.20,133.6 235.27,133.9 235.34,135.2 235.41,135.9 235.48,137.6 235.55,138.6 235.62,139.3 235.69,140.3 235.76,141.5 235.83,144.0 235.90,144.6 235.97,143.5 236.04,145.5 236.11,145.5 236.18,146.6 236.25,147.3 236.32,147.6 236.39,147.5 236.46,147.0 236.53,150.6 236.60,152.3 236.67,150.6 236.74,152.7 236.81,152.2 236.88,153.5 236.95,152.7 237.02,153.8 237.09,154.4 237.16,152.3 237.23,155.5 237.30,155.5 237.37,153.2 237.44,157.0 237.51,156.5 237.58,157.1 237.65,157.5 237.72,156.9 237.79,156.4 237.86,157.4 237.93,157.6 238.00,160.7 238.07,160.5 238.14,158.1 238.21,158.4 238.28,159.3 238.35,159.8 238.42,158.5 238.49,158.3 238.56,161.7 238.63,160.9 238.70,158.1 238.77,158.0 238.84,159.1 238.91,160.4 238.98,160.9 239.05,160.0 239.12,158.7 239.19,160.8 239.26,161.3 239.33,160.7 239.40,160.2 239.47,161.5 239.54,160.9 239.61,159.7 239.68,161.2 239.75,159.7 239.82,162.2 239.89,161.7 239.96,160.2 240.03,161.6 240.10,162.8 240.17,159.0 240.24,161.3 240.31,163.3 240.38,159.8 240.45,161.4 240.52,160.0 240.59,161.6 240.66,159.0 240.73,159.9 240.80,161.1 240.87,161.9 240.94,162.2 241.01,162.3 241.08,163.1 241.15,162.7 241.22,162.7 241.29,160.8"/>
<polyline stroke="#ec3434" stroke-width="0.75" points="41.30,116.3 41.37,116.1 41.44,119.1 41.51,118.6 41.58,116.9 41.65,118.3 41.72,115.7 41.79,116.8 41.86,114.2 41.93,120.8 42.00,115.4 42.07,120.3 42.14,117.9 42.21,117.9 42.28,119.5 42.35,120.5 42.42,121.4 42.49,123.6 42.56,121.3 42.63,122.4 42.70,119.9 42.77,122.4 42.84,121.6 42.91,120.7 42.98,121.5 43.05,121.7 43.12,122.3 43.19,122.8 43.26,121.4 43.33,121.1 43.40,123.8 43.47,119.7 43.54,121.7 43.61,125.6 43.68,118.4 43.75,122.0 43.82,124.5 43.89,120.7 43.96,128.0 44.03,119.3 44.10,126.3 44.17,126.6 44.24,125.6 44.31,123.8 44.38,124.9 44.45,122.9 44.52,125.9 44.59,122.7 44.66,124.3 44.73,126.5 44.80,123.1 44.87,124.4 44.94,125.4 45.01,123.0 45.08,127.2 45.15,126.0 45.22,123.0 45.29,125.5 45.36,124.4 45.43,124.7 45.50,126.0 45.57,124.8 45.64,127.6 45.71,125.0 45.78,127.8 45.85,126.2 45.92,127.8 45.99,125.6 46.06,125.7 46.13,124.8 46.20,127.7 46.27,128.3 46.34,130.3 46.41,129.0 46.48,127.4 46.55,126.8 46.62,127.8 46.69,127.2 46.76,129.7 46.83,128.9 46.90,126.2 46.97,126.5 47.04,129.8 47.11,128.2 47.18,127.4 47.25,129.7 47.32,127.3 47.39,127.5 47.46,127.3 47.53,125.1 47.60,129.5 47.67,126.4 47.74,127.4 47.81,127.2 47.88,129.6 47.95,128.4 48.02,128.6 48.09,126.0 48.16,128.6 48.23,126.5 48.30,129.3 48.37,129.4 48.44,128.9 48.51,132.1 48.58,129.9 48.65,130.0 48.72,129.4 48.79,128.9 48.86,130.7 48.93,131.0 49.00,127.4 49.07,131.0 49.14,130.3 49.21,131.0 49.28,130.3 49.35,127.8 49.42,127.9 49.49,132.5 49.56,130.2 49.63,127.7 49.70,130.4 49.77,129.4 49.84,127.3 49.91,126.7 49.98,127.7 50.05,130.6 50.12,130.1 50.19,129.9 50.26,130.7 50.33,131.2 50.40,127.3 50.47,130.0 50.54,129.3 50.61,128.7 50.68,129.8 50.75,130.4 50.82,130.3 50.89,128.6 50.96,130.0 51.03,133.7 51.10,129.3 51.17,128.4 51.24,131.3 51.31,131.8 51.38,131.7 51.45,129.4 51.52,132.5 51.59,130.0 51.66,129.5 51.73,130.3 51.80,131.1 51.87,132.3 51.94,132.2 52.01,131.3 52.08,132.7 52.15,131.6 52.22,132.8 52.29,129.5 52.36,129.3 52.43,132.7 52.50,129.7 52.57,131.2 52.64,131.6 52.71,131.1 52.78,131.1 52.85,133.8 52.92,128.3 52.99,133.1 53.06,135.2 53.13,132.0 53.20,132.0 53.27,133.1 53.34,134.6 53.41,130.4 53.48,132.3 53.55,131.9 53.62,133.0 53.69,132.5 53.76,133.2 53.83,131.7 53.90,132.4 53.97,131.4 54.04,131.5 54.11,132.2 54.18,132.3 54.25,130.9 54.32,134.7 54.39,132.4 54.46,130.7 54.53,134.2 54.60,131.6 54.67,133.4 54.74,132.7 54.81,133.1 54.88,133.0 54.95,132.0 55.02,132.9 55.09,135.7 55.16,129.9 55.23,133.1 55.30,133.6 55.37,131.6 55.44,131.2 55.51,136.0 55.58,132.6 55.65,136.0 55.72,133.9 55.79,133.3 55.86,133.9 55.93,134.1 56.00,134.9 56.07,133.9 56.14,133.6 56.21,133.6 56.28,135.3 56.35,134.6 56.42,132.1 56.49,132.7 56.56,134.0 56.63,132.7 56.70,133.1 56.77,132.4 56.84,133.3 56.91,134.3 56.98,135.1 57.05,133.8 57.12,136.6 57.19,133.7 57.26,138.1 57.33,135.2 57.40,134.6 57.47,133.3 57.54,130.2 57.61,133.8 57.68,134.3 57.75,136.6 57.82,132.3 57.89,136.7 57.96,133.8 58.03,135.2 58.10,130.9 58.17,134.4 58.24,133.8 58.31,135.2 58.38,134.5 58.45,132.9 58.52,135.7 58.59,135.4 58.66,135.3 58.73,135.8 58.80,136.0 58.87,134.5 58.94,132.8 59.01,132.8 59.08,136.4 59.15,135.6 59.22,134.9 59.29,134.2 59.36,134.8 59.43,134.9 59.50,134.4 59.57,134.0 59.64,137.7 59.71,135.3 59.78,134.2 59.85,133.3 59.92,134.1 59.99,136.0 60.06,136.1 60.13,134.9 60.20,135.3 60.27,134.8 60.34,133.8 60.41,137.0 60.48,135.8 60.55,138.5 60.62,134.4 60.69,135.2 60.76,136.6 60.83,135.2 60.90,133.7 60.97,134.3 61.04,135.7 61.11,136.0 61.18,135.5 61.25,136.9 61.32,137.0 61.39,136.1 61.46,135.8 61.53,135.4 61.60,136.5 61.67,137.0 61.74,135.9 61.81,136.5 61.88,135.5 61.95,134.1 62.02,134.7 62.09,137.0 62.16,136.6 62.23,138.1 62.30,136.1 62.37,137.2 62.44,137.8 62.51,137.4 62.58,135.4 62.65,136.0 62.72,136.4 62.79,135.0 62.86,136.9 62.93,137.6 63.00,135.7 63.07,138.8 63.14,136.0 63.21,136.1 63.28,136.1 63.35,135.5 63.42,137.0 63.49,136.5 63.56,138.6 63.63,137.3 63.70,137.2 63.77,136.2 63.84,134.8 63.91,136.4 63.98,135.5 64.05,137.8 64.12,136.6 64.19,138.7 64.26,137.6 64.33,137.7 64.40,137.0 64.47,136.9 64.54,137.5 64.61,137.9 64.68,135.8 64.75,137.4 64.82,140.0 64.89,136.7 64.96,136.5 65.03,136.0 65.10,135.0 65.17,138.3 65.24,136.9 65.31,137.2 65.38,139.2 65.45,140.0 65.52,135.8 65.59,138.2 65.66,137.7 65.73,137.5 65.80,137.6 65.87,137.0 65.94,139.0 66.01,137.8 66.08,137.5 66.15,138.6 66.22,138.2 66.29,137.7 66.36,137.5 66.43,139.3 66.50,137.8 66.57,137.0 66.64,136.1 66.71,136.7 66.78,135.9 66.85,137.3 66.92,137.5 66.99,134.7 67.06,137.3 67.13,138.0 67.20,137.5 67.27,136.1 67.34,138.8 67.41,136.4 67.48,135.8 67.55,136.0 67.62,137.3 67.69,138.6 67.76,138.8 67.83,137.6 67.90,135.9 67.97,136.6 68.04,136.3 68.11,137.2 68.18,135.2 68.25,137.6 68.32,138.2 68.39,137.3 68.46,138.0 68.53,136.3 68.60,135.7 68.67,136.7 68.74,138.9 68.81,138.7 68.88,136.9 68.95,139.0 69.02,137.1 69.09,139.4 69.16,138.1 69.23,137.0 69.30,138.5 69.37,136.6 69.44,136.4 69.51,135.8 69.58,137.9 69.65,137.5 69.72,137.5 69.79,137.1 69.86,139.3 69.93,137.1 70.00,136.7 70.07,139.1 70.14,139.3 70.21,138.0 70.28,135.5 70.35,136.9 70.42,138.3 70.49,137.6 70.56,139.5 70.63,135.9 70.70,138.4 70.77,136.8 70.84,139.2 70.91,137.5 70.98,138.8 71.05,136.8 71.12,135.9 71.19,136.2 71.26,136.8 71.33,136.3 71.40,139.0 71.47,139.1 71.54,137.9 71.61,136.3 71.68,137.4 71.75,136.7 71.82,139.3 71.89,137.9 71.96,138.1 72.03,137.0 72.10,135.0 72.17,136.5 72.24,136.1 72.31,137.9 72.38,137.5 72.45,136.5 72.52,136.9 72.59,139.3 72.66,136.2 72.73,136.3 72.80,137.1 72.87,136.5 72.94,136.8 73.01,138.0 73.08,139.4 73.15,135.2 73.22,137.3 73.29,137.3 73.36,137.2 73.43,137.0 73.50,136.8 73.57,138.4 73.64,136.7 73.71,137.1 73.78,137.2 73.85,137.3 73.92,137.0 73.99,138.4 74.06,137.1 74.13,137.3 74.20,137.1 74.27,135.9 74.34,136.1 74.41,135.8 74.48,137.3 74.55,136.2 74.62,135.8 74.69,137.3 74.76,137.6 74.83,134.9 74.90,139.0 74.97,137.0 75.04,136.8 75.11,138.2 75.18,137.0 75.25,136.2 75.32,139.5 75.39,135.6 75.46,136.8 75.53,137.9 75.60,135.6 75.67,136.7 75.74,137.3 75.81,139.7 75.88,135.7 75.95,136.7 76.02,137.6 76.09,136.9 76.16,135.3 76.23,137.2 76.30,136.8 76.37,137.2 76.44,138.0 76.51,137.9 76.58,137.1 76.65,137.0 76.72,135.3 76.79,136.4 76.86,136.9 76.93,136.1 77.00,136.7 77.07,135.6 77.14,138.3 77.21,139.1 77.28,136.0 77.35,136.9 77.42,136.2 77.49,137.9 77.56,136.9 77.63,136.5 77.70,136.1 77.77,136.5 77.84,135.2 77.91,137.1 77.98,135.5 78.05,136.9 78.12,136.4 78.19,137.5 78.26,136.2 78.33,137.4 78.40,135.1 78.47,136.9 78.54,135.9 78.61,136.4 78.68,136.2 78.75,137.2 78.82,133.7 78.89,136.4 78.96,134.3 79.03,137.4 79.10,133.7 79.17,134.8 79.24,134.0 79.31,137.9 79.38,134.4 79.45,136.0 79.52,135.2 79.59,133.7 79.66,135.4 79.73,136.6 79.80,135.6 79.87,136.9 79.94,135.3 80.01,135.7 80.08,135.2 80.15,136.1 80.22,137.9 80.29,136.1 80.36,135.8 80.43,134.9 80.50,134.7 80.57,137.3 80.64,134.2 80.71,134.4 80.78,135.4 80.85,135.0 80.92,137.7 80.99,132.6 81.06,135.8 81.13,136.2 81.20,134.1 81.27,134.6 81.34,135.8 81.41,137.2 81.48,134.2 81.55,133.4 81.62,136.4 81.69,137.0 81.76,134.8 81.83,132.6 81.90,136.9 81.97,134.9 82.04,136.5 82.11,135.1 82.18,134.7 82.25,134.5 82.32,136.8 82.39,136.7 82.46,132.5 82.53,133.9 82.60,137.1 82.67,134.5 82.74,133.3 82.81,134.9 82.88,134.8 82.95,134.8 83.02,134.3 83.09,134.5 83.16,134.3 83.23,135.2 83.30,133.8 83.37,134.4 83.44,134.6 83.51,136.3 83.58,135.1 83.65,134.6 83.72,135.3 83.79,135.1 83.86,135.9 83.93,135.2 84.00,136.7 84.07,136.1 84.14,134.5 84.21,134.0 84.28,135.5 84.35,135.1 84.42,134.4 84.49,132.7 84.56,132.3 84.63,134.8 84.70,135.3 84.77,135.3 84.84,132.8 84.91,135.5 84.98,133.7 85.05,134.7 85.12,134.8 85.19,133.3 85.26,133.5 85.33,131.8 85.40,133.1 85.47,132.1 85.54,134.7 85.61,134.2 85.68,135.2 85.75,134.5 85.82,133.3 85.89,134.4 85.96,133.6 86.03,134.7 86.10,134.4 86.17,132.8 86.24,133.9 86.31,134.0 86.38,133.5 86.45,134.9 86.52,135.9 86.59,133.4 86.66,133.4 86.73,131.2 86.80,133.6 86.87,133.3 86.94,131.2 87.01,134.1 87.08,134.4 87.15,132.8 87.22,133.2 87.29,132.5 87.36,134.5 87.43,131.8 87.50,133.2 87.57,135.8 87.64,133.6 87.71,134.1 87.78,133.3 87.85,132.1 87.92,133.4 87.99,133.9 88.06,132.2 88.13,133.8 88.20,134.8 88.27,134.6 88.34,131.5 88.41,132.2 88.48,131.4 88.55,134.5 88.62,134.0 88.69,134.0 88.76,132.2 88.83,131.8 88.90,133.3 88.97,133.3 89.04,132.1 89.11,133.3 89.18,133.8 89.25,133.3 89.32,131.8 89.39,130.6 89.46,132.7 89.53,133.2 89.60,132.7 89.67,132.4 89.74,132.1 89.81,133.7 89.88,132.8 89.95,133.0 90.02,131.7 90.09,132.1 90.16,133.0 90.23,131.6 90.30,131.3 90.37,132.4 90.44,134.1 90.51,132.9 90.58,134.4 90.65,132.5 90.72,132.3 90.79,131.0 90.86,131.9 90.93,134.2 91.00,132.9 91.07,133.4 91.14,133.3 91.21,132.5 91.28,132.2 91.35,132.6 91.42,133.2 91.49,132.9 91.56,133.0 91.63,132.6 91.70,131.5 91.77,132.0 91.84,131.2 91.91,133.5 91.98,129.8 92.05,132.0 92.12,135.0 92.19,131.8 92.26,130.9 92.33,132.1 92.40,133.6 92.47,131.9 92.54,132.8 92.61,132.2 92.68,131.6 92.75,135.7 92.82,132.1 92.89,131.4 92.96,131.4 93.03,132.4 93.10,132.4 93.17,132.8 93.24,132.1 93.31,130.2 93.38,132.5 93.45,131.5 93.52,131.5 93.59,130.1 93.66,131.1 93.73,130.9 93.80,131.7 93.87,130.0 93.94,131.8 94.01,131.8 94.08,130.4 94.15,130.9 94.22,130.6 94.29,132.6 94.36,128.6 94.43,131.2 94.50,129.6 94.57,131.0 94.64,132.5 94.71,130.7 94.78,131.6 94.85,130.5 94.92,133.7 94.99,132.4 95.06,132.7 95.13,129.8 95.20,130.1 95.27,132.6 95.34,131.1 95.41,131.0 95.48,131.6 95.55,129.8 95.62,132.1 95.69,131.2 95.76,131.7 95.83,130.4 95.90,131.7 95.97,130.3 96.04,132.2 96.11,132.4 96.18,132.1 96.25,131.6 96.32,131.7 96.39,127.9 96.46,131.9 96.53,130.6 96.60,131.0 96.67,130.6 96.74,129.3 96.81,130.2 96.88,131.6 96.95,132.5 97.02,130.1 97.09,129.7 97.16,132.4 97.23,129.7 97.30,133.1 97.37,130.8 97.44,129.7 97.51,131.8 97.58,132.6 97.65,129.0 97.72,132.4 97.79,130.2 97.86,132.3 97.93,130.1 98.00,128.7 98.07,131.1 98.14,131.5 98.21,132.9 98.28,132.4 98.35,131.2 98.42,130.1 98.49,129.8 98.56,130.0 98.63,129.4 98.70,130.0 98.77,127.3 98.84,130.5 98.91,130.2 98.98,133.2 99.05,131.1 99.12,129.6 99.19,130.8 99.26,128.7 99.33,129.4 99.40,127.9 99.47,131.7 99.54,130.7 99.61,128.7 99.68,129.9 99.75,131.1 99.82,130.5 99.89,130.4 99.96,128.9 100.03,129.2 100.10,130.0 100.17,130.9 100.24,128.9 100.31,128.5 100.38,131.1 100.45,128.7 100.52,131.0 100.59,130.0 100.66,130.7 100.73,131.7 100.80,130.5 100.87,130.5 100.94,128.6 101.01,128.8 101.08,130.3 101.15,131.3 101.22,131.1 101.29,132.2 101.36,129.8 101.43,129.7 101.50,130.6 101.57,129.4 101.64,129.3 101.71,128.2 101.78,130.5 101.85,128.1 101.92,129.9 101.99,127.7 102.06,130.5 102.13,128.1 102.20,130.2 102.27,127.4 102.34,128.7 102.41,130.5 102.48,128.2 102.55,129.2 102.62,128.5 102.69,126.4 102.76,129.4 102.83,129.5 102.90,127.7 102.97,129.6 103.04,128.0 103.11,127.8 103.18,128.9 103.25,128.1 103.32,131.5 103.39,127.1 103.46,129.7 103.53,130.0 103.60,126.5 103.67,126.8 103.74,129.4 103.81,128.2 103.88,129.2 103.95,130.0 104.02,128.2 104.09,127.4 104.16,125.5 104.23,128.8 104.30,127.5 104.37,128.9 104.44,128.8 104.51,126.9 104.58,130.5 104.65,129.7 104.72,129.4 104.79,127.1 104.86,127.9 104.93,127.8 105.00,127.9 105.07,127.0 105.14,128.8 105.21,128.6 105.28,128.7 105.35,127.7 105.42,129.7 105.49,128.4 105.56,125.0 105.63,127.4 105.70,128.1 105.77,129.2 105.84,127.8 105.91,127.8 105.98,127.3 106.05,128.8 106.12,127.5 106.19,127.3 106.26,127.1 106.33,128.6 106.40,127.3 106.47,126.0 106.54,128.6 106.61,127.1 106.68,128.3 106.75,128.3 106.82,129.2 106.89,129.0 106.96,127.1 107.03,127.6 107.10,126.3 107.17,129.7 107.24,128.2 107.31,129.3 107.38,127.3 107.45,125.3 107.52,129.4 107.59,127.7 107.66,127.7 107.73,127.6 107.80,128.3 107.87,128.1 107.94,125.7 108.01,128.7 108.08,126.8 108.15,126.9 108.22,129.4 108.29,128.5 108.36,127.0 108.43,125.2 108.50,127.5 108.57,127.9 108.64,127.2 108.71,125.8 108.78,126.3 108.85,125.8 108.92,127.5 108.99,128.1 109.06,128.4 109.13,126.3 109.20,127.4 109.27,127.8 109.34,126.5 109.41,126.9 109.48,129.5 109.55,127.3 109.62,128.0 109.69,126.5 109.76,127.0 109.83,125.0 109.90,126.9 109.97,128.3 110.04,129.3 110.11,128.3 110.18,127.7 110.25,126.9 110.32,126.1 110.39,126.6 110.46,127.5 110.53,125.9 110.60,127.8 110.67,125.6 110.74,124.7 110.81,125.5 110.88,124.8 110.95,125.1 111.02,127.9 111.09,126.4 111.16,126.9 111.23,127.9 111.30,128.0 111.37,126.0 111.44,128.1 111.51,127.0 111.58,126.5 111.65,127.0 111.72,124.8 111.79,125.5 111.86,126.3 111.93,127.1 112.00,126.0 112.07,126.2 112.14,127.5 112.21,128.0 112.28,127.2 112.35,127.8 112.42,125.8 112.49,125.9 112.56,126.6 112.63,125.9 112.70,125.6 112.77,128.1 112.84,125.9 112.91,125.0 112.98,126.7 113.05,128.2 113.12,126.2 113.19,127.5 113.26,125.6 113.33,125.5 113.40,125.2 113.47,125.8 113.54,128.1 113.61,124.6 113.68,127.8 113.75,124.8 113.82,125.6 113.89,126.8 113.96,126.6 114.03,126.2 114.10,123.9 114.17,126.2 114.24,124.6 114.31,128.7 114.38,125.5 114.45,125.9 114.52,124.4 114.59,125.1 114.66,124.2 114.73,126.8 114.80,125.3 114.87,126.2 114.94,124.8 115.01,125.0 115.08,127.0 115.15,124.4 115.22,123.4 115.29,125.9 115.36,124.1 115.43,124.9 115.50,126.5 115.57,124.4 115.64,126.4 115.71,124.6 115.78,127.0 115.85,126.8 115.92,124.7 115.99,125.0 116.06,124.3 116.13,125.5 116.20,126.5 116.27,123.5 116.34,126.2 116.41,123.6 116.48,124.1 116.55,123.0 116.62,127.5 116.69,125.1 116.76,125.3 116.83,124.2 116.90,126.2 116.97,122.6 117.04,125.0 117.11,127.5 117.18,124.5 117.25,124.9 117.32,125.6 117.39,123.9 117.46,124.9 117.53,125.9 117.60,125.0 117.67,125.2 117.74,124.3 117.81,125.1 117.88,124.8 117.95,126.4 118.02,125.5 118.09,124.4 118.16,121.8 118.23,125.4 118.30,125.5 118.37,123.5 118.44,122.2 118.51,123.2 118.58,125.6 118.65,123.3 118.72,123.9 118.79,124.7 118.86,125.8 118.93,124.4 119.00,124.3 119.07,123.7 119.14,126.2 119.21,125.6 119.28,124.2 119.35,122.7 119.42,123.4 119.49,124.9 119.56,123.4 119.63,125.2 119.70,124.6 119.77,124.5 119.84,124.9 119.91,124.7 119.98,123.1 120.05,123.7 120.12,126.8 120.19,122.7 120.26,123.5 120.33,125.2 120.40,123.8 120.47,123.0 120.54,122.4 120.61,124.6 120.68,125.1 120.75,125.5 120.82,124.0 120.89,125.1 120.96,122.7 121.03,124.0 121.10,123.0 121.17,124.0 121.24,124.6 121.31,125.0 121.38,122.6 121.45,125.2 121.52,123.2 121.59,122.5 121.66,123.5 121.73,122.0 121.80,123.7 121.87,124.0 121.94,123.4 122.01,124.2 122.08,123.2 122.15,123.6 122.22,121.9 122.29,123.6 122.36,122.5 122.43,123.0 122.50,123.4 122.57,123.7 122.64,121.6 122.71,121.6 122.78,123.1 122.85,124.0 122.92,123.8 122.99,124.4 123.06,124.9 123.13,123.9 123.20,123.3 123.27,122.1 123.34,122.2 123.41,122.8 123.48,123.6 123.55,123.5 123.62,123.3 123.69,123.1 123.76,124.0 123.83,123.5 123.90,123.5 123.97,123.5 124.04,122.5 124.11,122.0 124.18,123.7 124.25,123.6 124.32,122.9 124.39,122.6 124.46,125.7 124.53,122.2 124.60,122.8 124.67,123.4 124.74,121.7 124.81,123.2 124.88,125.1 124.95,124.1 125.02,123.7 125.09,123.7 125.16,123.1 125.23,124.1 125.30,122.8 125.37,122.5 125.44,123.1 125.51,124.0 125.58,123.3 125.65,123.7 125.72,120.6 125.79,124.3 125.86,125.6 125.93,124.4 126.00,122.5 126.07,121.9 126.14,123.1 126.21,121.7 126.28,123.6 126.35,122.2 126.42,123.9 126.49,124.3 126.56,120.4 126.63,123.1 126.70,121.9 126.77,121.1 126.84,122.0 126.91,122.5 126.98,123.9 127.05,120.9 127.12,123.9 127.19,125.0 127.26,123.3 127.33,123.3 127.40,122.6 127.47,121.2 127.54,123.2 127.61,123.0 127.68,123.4 127.75,125.5 127.82,123.3 127.89,123.0 127.96,124.3 128.03,120.9 128.10,121.1 128.17,122.0 128.24,121.6 128.31,123.2 128.38,122.0 128.45,124.3 128.52,124.0 128.59,123.1 128.66,121.8 128.73,122.9 128.80,123.1 128.87,120.9 128.94,122.5 129.01,122.8 129.08,122.2 129.15,123.7 129.22,123.3 129.29,120.9 129.36,121.9 129.43,120.7 129.50,122.3 129.57,120.6 129.64,122.6 129.71,121.9 129.78,122.5 129.85,121.1 129.92,119.5 129.99,123.2 130.06,120.9 130.13,122.6 130.20,121.4 130.27,121.6 130.34,122.9 130.41,121.1 130.48,122.2 130.55,118.8 130.62,121.5 130.69,120.1 130.76,120.2 130.83,120.4 130.90,120.7 130.97,122.2 131.04,118.2 131.11,120.4 131.18,119.5 131.25,121.7 131.32,119.9 131.39,121.0 131.46,120.0 131.53,121.3 131.60,121.8 131.67,120.2 131.74,120.8 131.81,119.2 131.88,121.2 131.95,121.9 132.02,120.4 132.09,122.4 132.16,118.7 132.23,119.1 132.30,119.7 132.37,120.8 132.44,121.4 132.51,121.3 132.58,121.4 132.65,122.3 132.72,121.0 132.79,120.1 132.86,120.2 132.93,124.1 133.00,119.0 133.07,121.5 133.14,123.4 133.21,122.3 133.28,120.9 133.35,121.8 133.42,122.9 133.49,123.3 133.56,120.9 133.63,122.8 133.70,122.2 133.77,123.2 133.84,123.5 133.91,121.6 133.98,120.3 134.05,122.4 134.12,124.0 134.19,122.8 134.26,122.3 134.33,124.8 134.40,120.8 134.47,123.0 134.54,121.3 134.61,122.0 134.68,122.1 134.75,123.7 134.82,120.9 134.89,121.4 134.96,120.1 135.03,122.5 135.10,121.4 135.17,122.4 135.24,120.7 135.31,121.5 135.38,123.1 135.45,121.7 135.52,122.6 135.59,122.5 135.66,121.5 135.73,120.1 135.80,123.0 135.87,122.0 135.94,122.9 136.01,119.5 136.08,119.9 136.15,119.3 136.22,120.7 136.29,122.9 136.36,122.3 136.43,121.6 136.50,121.8 136.57,122.5 136.64,121.3 136.71,122.0 136.78,121.7 136.85,119.0 136.92,121.0 136.99,123.0 137.06,121.0 137.13,121.2 137.20,120.7 137.27,120.8 137.34,122.6 137.41,120.9 137.48,120.0 137.55,117.6 137.62,120.5 137.69,118.8 137.76,118.9 137.83,121.9 137.90,121.8 137.97,118.7 138.04,121.8 138.11,121.3 138.18,119.8 138.25,121.5 138.32,118.7 138.39,119.1 138.46,118.8 138.53,119.1 138.60,121.3 138.67,118.7 138.74,118.8 138.81,119.0 138.88,120.2 138.95,119.5 139.02,120.8 139.09,118.9 139.16,118.1 139.23,118.9 139.30,119.4 139.37,118.2 139.44,119.5 139.51,121.1 139.58,118.2 139.65,118.8 139.72,120.1 139.79,117.7 139.86,117.3 139.93,116.8 140.00,118.3 140.07,118.3 140.14,117.3 140.21,117.3 140.28,118.5 140.35,117.8 140.42,114.9 140.49,116.3 140.56,116.1 140.63,116.5 140.70,115.1 140.77,114.3 140.84,114.2 140.91,112.3 140.98,113.9 141.05,112.8 141.12,113.6 141.19,111.4 141.26,111.5 141.33,110.3 141.40,109.7 141.47,111.1 141.54,109.1 141.61,109.4 141.68,106.8 141.75,107.4 141.82,104.5 141.89,105.0 141.96,104.0 142.03,104.3 142.10,102.8 142.17,101.2 142.24,101.2 142.31,99.3 142.38,98.4 142.45,97.4 142.52,95.1 142.59,93.5 142.66,92.9 142.73,90.8 142.80,90.5 142.87,90.2 142.94,88.9 143.01,86.6 143.08,84.8 143.15,85.6 143.22,85.2 143.29,86.5 143.36,84.8 143.43,85.1 143.50,86.4 143.57,85.4 143.64,86.2 143.71,88.8 143.78,89.1 143.85,88.8 143.92,89.1 143.99,88.4 144.06,91.0 144.13,91.2 144.20,92.3 144.27,92.3 144.34,93.8 144.41,94.4 144.48,95.9 144.55,98.1 144.62,97.7 144.69,96.3 144.76,97.9 144.83,98.0 144.90,99.7 144.97,102.1 145.04,102.6 145.11,102.2 145.18,103.9 145.25,103.4 145.32,103.3 145.39,103.9 145.46,105.2 145.53,108.4 145.60,105.7 145.67,109.2 145.74,109.9 145.81,108.6 145.88,109.2 145.95,109.0 146.02,110.1 146.09,111.3 146.16,111.0 146.23,112.5 146.30,113.0 146.37,112.4 146.44,112.7 146.51,112.6 146.58,113.4 146.65,112.0 146.72,114.0 146.79,114.0 146.86,113.0 146.93,116.7 147.00,113.4 147.07,113.7 147.14,115.2 147.21,112.9 147.28,114.4 147.35,113.7 147.42,114.6 147.49,115.7 147.56,116.4 147.63,117.4 147.70,117.2 147.77,117.8 147.84,117.3 147.91,116.2 147.98,118.1 148.05,116.4 148.12,116.4 148.19,118.9 148.26,118.2 148.33,117.6 148.40,118.3 148.47,118.6 148.54,116.1 148.61,117.6 148.68,116.5 148.75,118.0 148.82,117.2 148.89,119.6 148.96,118.7 149.03,117.2 149.10,118.2 149.17,116.9 149.24,118.4 149.31,119.0 149.38,118.8 149.45,116.3 149.52,118.2 149.59,119.2 149.66,119.0 149.73,120.0 149.80,117.2 149.87,119.3 149.94,118.0 150.01,119.0 150.08,119.3 150.15,119.6 150.22,118.2 150.29,119.1 150.36,117.5 150.43,117.3 150.50,119.5 150.57,118.8 150.64,117.0 150.71,117.9 150.78,118.9 150.85,120.7 150.92,120.1 150.99,119.8 151.06,116.8 151.13,118.7 151.20,119.4 151.27,119.3 151.34,119.3 151.41,118.5 151.48,120.8 151.55,120.4 151.62,118.6 151.69,117.5 151.76,121.0 151.83,117.9 151.90,119.9 151.97,120.6 152.04,117.3 152.11,118.7 152.18,117.8 152.25,118.8 152.32,118.5 152.39,120.3 152.46,118.6 152.53,117.8 152.60,119.0 152.67,117.3 152.74,117.1 152.81,120.0 152.88,116.3 152.95,116.6 153.02,117.0 153.09,115.6 153.16,114.2 153.23,117.7 153.30,115.4 153.37,115.4 153.44,115.4 153.51,114.5 153.58,114.1 153.65,115.3 153.72,117.6 153.79,115.4 153.86,115.1 153.93,112.1 154.00,113.5 154.07,111.8 154.14,113.6 154.21,112.0 154.28,111.8 154.35,111.2 154.42,110.1 154.49,108.4 154.56,110.2 154.63,107.3 154.70,106.9 154.77,107.1 154.84,105.9 154.91,106.2 154.98,106.1 155.05,104.3 155.12,103.3 155.19,102.1 155.26,102.0 155.33,97.8 155.40,99.3 155.47,96.7 155.54,95.2 155.61,95.6 155.68,94.1 155.75,94.2 155.82,93.9 155.89,89.2 155.96,91.1 156.03,92.9 156.10,91.4 156.17,91.9 156.24,90.3 156.31,88.7 156.38,89.3 156.45,91.7 156.52,92.4 156.59,91.0 156.66,92.1 156.73,93.4 156.80,91.8 156.87,94.2 156.94,97.2 157.01,98.7 157.08,96.9 157.15,100.0 157.22,98.2 157.29,98.7 157.36,97.9 157.43,102.4 157.50,101.7 157.57,105.6 157.64,104.1 157.71,104.7 157.78,103.1 157.85,107.6 157.92,106.2 157.99,107.0 158.06,105.3 158.13,109.5 158.20,110.1 158.27,108.8 158.34,110.2 158.41,111.0 158.48,112.1 158.55,111.6 158.62,113.9 158.69,112.0 158.76,112.0 158.83,112.5 158.90,110.5 158.97,112.8 159.04,115.2 159.11,114.7 159.18,113.7 159.25,115.3 159.32,112.9 159.39,115.1 159.46,116.3 159.53,116.7 159.60,115.3 159.67,117.4 159.74,118.7 159.81,116.3 159.88,117.8 159.95,115.3 160.02,115.0 160.09,118.2 160.16,117.7 160.23,118.0 160.30,117.3 160.37,117.7 160.44,119.1 160.51,120.3 160.58,118.2 160.65,116.7 160.72,120.2 160.79,119.5 160.86,119.7 160.93,119.2 161.00,121.8 161.07,119.3 161.14,119.9 161.21,117.3 161.28,118.8 161.35,118.8 161.42,119.6 161.49,120.1 161.56,118.9 161.63,121.9 161.70,118.7 161.77,119.5 161.84,120.3 161.91,118.7 161.98,120.9 162.05,121.0 162.12,120.0 162.19,122.6 162.26,120.5 162.33,120.8 162.40,119.4 162.47,118.7 162.54,119.9 162.61,120.3 162.68,120.2 162.75,121.7 162.82,118.1 162.89,119.6 162.96,118.8 163.03,122.5 163.10,120.3 163.17,120.4 163.24,119.8 163.31,122.1 163.38,120.7 163.45,121.4 163.52,118.9 163.59,122.6 163.66,121.7 163.73,121.9 163.80,122.8 163.87,121.1 163.94,121.2 164.01,122.3 164.08,122.0 164.15,121.2 164.22,121.6 164.29,121.0 164.36,122.4 164.43,122.7 164.50,121.6 164.57,123.8 164.64,119.9 164.71,121.4 164.78,123.7 164.85,121.3 164.92,119.9 164.99,123.4 165.06,122.4 165.13,120.4 165.20,122.7 165.27,120.7 165.34,120.3 165.41,121.7 165.48,121.4 165.55,120.7 165.62,121.5 165.69,120.8 165.76,122.1 165.83,122.0 165.90,122.9 165.97,121.5 166.04,120.5 166.11,120.6 166.18,121.8 166.25,123.9 166.32,123.1 166.39,121.4 166.46,123.3 166.53,120.8 166.60,123.4 166.67,121.8 166.74,123.1 166.81,123.0 166.88,121.9 166.95,122.7 167.02,121.1 167.09,122.2 167.16,123.6 167.23,127.1 167.30,123.2 167.37,122.5 167.44,121.2 167.51,123.6 167.58,120.5 167.65,121.5 167.72,122.8 167.79,121.0 167.86,124.2 167.93,123.7 168.00,121.8 168.07,121.8 168.14,121.0 168.21,120.9 168.28,123.0 168.35,123.3 168.42,123.0 168.49,122.9 168.56,121.9 168.63,123.0 168.70,120.9 168.77,122.6 168.84,124.3 168.91,124.2 168.98,122.1 169.05,122.3 169.12,124.3 169.19,124.7 169.26,121.0 169.33,122.2 169.40,123.0 169.47,124.1 169.54,121.8 169.61,123.5 169.68,122.4 169.75,125.5 169.82,123.3 169.89,122.6 169.96,122.4 170.03,124.0 170.10,123.6 170.17,121.6 170.24,123.1 170.31,121.3 170.38,122.0 170.45,121.4 170.52,121.3 170.59,122.1 170.66,121.8 170.73,123.5 170.80,123.8 170.87,122.6 170.94,121.6 171.01,123.9 171.08,120.6 171.15,120.7 171.22,123.8 171.29,123.7 171.36,124.1 171.43,122.7 171.50,121.5 171.57,122.4 171.64,123.7 171.71,122.1 171.78,122.2 171.85,121.4 171.92,121.7 171.99,124.0 172.06,123.6 172.13,121.7 172.20,121.8 172.27,122.4 172.34,123.7 172.41,121.8 172.48,122.9 172.55,120.6 172.62,121.7 172.69,123.6 172.76,124.2 172.83,121.8 172.90,122.3 172.97,124.1 173.04,122.7 173.11,122.6 173.18,123.8 173.25,123.4 173.32,124.5 173.39,124.1 173.46,122.6 173.53,123.1 173.60,123.2 173.67,121.7 173.74,122.1 173.81,124.4 173.88,121.4 173.95,124.4 174.02,123.6 174.09,123.1 174.16,123.9 174.23,123.9 174.30,124.7 174.37,122.9 174.44,123.1 174.51,123.1 174.58,125.5 174.65,124.4 174.72,122.3 174.79,123.0 174.86,122.6 174.93,123.4 175.00,123.6 175.07,126.0 175.14,121.3 175.21,124.6 175.28,123.9 175.35,122.6 175.42,123.3 175.49,122.9 175.56,123.5 175.63,124.6 175.70,121.7 175.77,125.0 175.84,123.1 175.91,125.2 175.98,124.0 176.05,124.9 176.12,124.2 176.19,124.8 176.26,123.6 176.33,122.6 176.40,124.3 176.47,124.4 176.54,126.0 176.61,121.3 176.68,123.3 176.75,124.8 176.82,122.1 176.89,123.3 176.96,126.1 177.03,125.3 177.10,122.6 177.17,125.3 177.24,125.0 177.31,124.5 177.38,124.1 177.45,123.9 177.52,122.7 177.59,123.1 177.66,124.5 177.73,123.9 177.80,125.8 177.87,123.3 177.94,121.0 178.01,123.4 178.08,124.1 178.15,124.2 178.22,123.8 178.29,122.8 178.36,125.5 178.43,123.0 178.50,124.6 178.57,123.5 178.64,122.4 178.71,125.5 178.78,120.9 178.85,122.9 178.92,124.3 178.99,123.4 179.06,124.7 179.13,123.8 179.20,123.4 179.27,126.4 179.34,123.6 179.41,123.7 179.48,122.7 179.55,123.1 179.62,124.7 179.69,124.6 179.76,123.9 179.83,123.1 179.90,124.8 179.97,122.0 180.04,123.6 180.11,123.7 180.18,123.0 180.25,124.2 180.32,123.2 180.39,123.1 180.46,126.1 180.53,124.9 180.60,125.4 180.67,124.1 180.74,125.2 180.81,125.0 180.88,125.5 180.95,126.8 181.02,123.8 181.09,124.4 181.16,124.0 181.23,120.1 181.30,122.5 181.37,124.1 181.44,124.8 181.51,123.5 181.58,125.4 181.65,125.6 181.72,123.7 181.79,125.8 181.86,126.2 181.93,124.7 182.00,123.0 182.07,125.8 182.14,124.0 182.21,123.7 182.28,124.3 182.35,123.6 182.42,125.4 182.49,125.1 182.56,125.6 182.63,124.9 182.70,123.3 182.77,124.0 182.84,125.2 182.91,123.7 182.98,127.6 183.05,123.9 183.12,123.5 183.19,125.5 183.26,125.1 183.33,124.2 183.40,123.9 183.47,124.7 183.54,125.2 183.61,125.1 183.68,123.9 183.75,124.7 183.82,125.2 183.89,125.1 183.96,120.7 184.03,123.2 184.10,123.3 184.17,124.0 184.24,124.4 184.31,125.3 184.38,124.9 184.45,124.1 184.52,124.3 184.59,126.3 184.66,123.5 184.73,124.6 184.80,126.0 184.87,124.6 184.94,121.9 185.01,124.7 185.08,123.8 185.15,124.1 185.22,125.4 185.29,124.8 185.36,123.9 185.43,125.3 185.50,124.7 185.57,124.4 185.64,124.6 185.71,124.5 185.78,123.9 185.85,123.7 185.92,124.3 185.99,123.1 186.06,122.8 186.13,125.7 186.20,124.0 186.27,124.2 186.34,124.1 186.41,124.3 186.48,124.3 186.55,124.3 186.62,123.3 186.69,125.3 186.76,123.4 186.83,125.4 186.90,122.0 186.97,123.0 187.04,125.4 187.11,124.1 187.18,123.5 187.25,124.7 187.32,123.0 187.39,124.3 187.46,121.7 187.53,123.7 187.60,123.5 187.67,124.9 187.74,125.2 187.81,123.2 187.88,126.1 187.95,123.5 188.02,121.9 188.09,121.5 188.16,126.0 188.23,124.1 188.30,123.5 188.37,123.4 188.44,123.0 188.51,125.8 188.58,124.1 188.65,126.3 188.72,124.0 188.79,121.5 188.86,125.2 188.93,123.8 189.00,123.9 189.07,126.0 189.14,123.9 189.21,125.5 189.28,124.2 189.35,123.3 189.42,124.7 189.49,123.5 189.56,125.6 189.63,125.3 189.70,124.2 189.77,124.8 189.84,124.8 189.91,123.8 189.98,125.1 190.05,123.9 190.12,124.8 190.19,123.0 190.26,124.2 190.33,124.6 190.40,123.2 190.47,123.6 190.54,123.5 190.61,124.9 190.68,123.2 190.75,124.5 190.82,125.8 190.89,124.4 190.96,122.2 191.03,124.1 191.10,125.2 191.17,123.7 191.24,125.2 191.31,124.7 191.38,124.4 191.45,123.6 191.52,123.3 191.59,123.6 191.66,124.0 191.73,124.5 191.80,124.3 191.87,123.5 191.94,123.9 192.01,124.2 192.08,121.9 192.15,122.9 192.22,122.8 192.29,123.5 192.36,123.4 192.43,123.4 192.50,122.6 192.57,124.4 192.64,123.9 192.71,121.7 192.78,123.5 192.85,122.2 192.92,125.4 192.99,122.9 193.06,122.9 193.13,123.4 193.20,123.1 193.27,123.2 193.34,125.0 193.41,123.4 193.48,124.1 193.55,124.3 193.62,121.9 193.69,124.9 193.76,123.6 193.83,123.9 193.90,121.7 193.97,123.6 194.04,123.0 194.11,121.8 194.18,125.0 194.25,122.9 194.32,121.8 194.39,122.2 194.46,122.9 194.53,123.0 194.60,122.3 194.67,122.8 194.74,122.9 194.81,119.7 194.88,120.3 194.95,119.6 195.02,120.6 195.09,121.9 195.16,120.7 195.23,118.5 195.30,119.1 195.37,120.3 195.44,118.2 195.51,118.3 195.58,118.5 195.65,115.7 195.72,118.3 195.79,117.4 195.86,117.3 195.93,115.1 196.00,115.0 196.07,114.8 196.14,115.5 196.21,115.0 196.28,114.9 196.35,116.6 196.42,115.9 196.49,113.6 196.56,113.6 196.63,116.5 196.70,114.3 196.77,116.4 196.84,116.9 196.91,114.8 196.98,115.4 197.05,116.2 197.12,115.5 197.19,115.7 197.26,116.7 197.33,118.6 197.40,117.4 197.47,118.1 197.54,118.1 197.61,117.4 197.68,121.0 197.75,116.8 197.82,119.0 197.89,120.7 197.96,118.7 198.03,121.2 198.10,122.2 198.17,119.9 198.24,121.3 198.31,120.0 198.38,122.0 198.45,121.6 198.52,121.9 198.59,123.4 198.66,122.5 198.73,123.6 198.80,122.9 198.87,120.9 198.94,122.6 199.01,123.0 199.08,120.8 199.15,124.1 199.22,122.7 199.29,123.1 199.36,121.7 199.43,122.9 199.50,123.2 199.57,122.5 199.64,123.1 199.71,120.6 199.78,124.6 199.85,121.8 199.92,120.6 199.99,122.1 200.06,122.2 200.13,123.9 200.20,122.2 200.27,123.6 200.34,122.2 200.41,125.9 200.48,124.0 200.55,125.6 200.62,122.2 200.69,124.2 200.76,122.3 200.83,124.1 200.90,124.2 200.97,121.7 201.04,122.2 201.11,122.2 201.18,121.8 201.25,122.7 201.32,122.4 201.39,121.9 201.46,123.7 201.53,124.2 201.60,122.1 201.67,122.9 201.74,123.6 201.81,123.3 201.88,122.8 201.95,124.5 202.02,124.6 202.09,124.4 202.16,123.4 202.23,125.9 202.30,125.6 202.37,123.2 202.44,123.5 202.51,125.0 202.58,122.7 202.65,124.1 202.72,123.7 202.79,122.8 202.86,123.3 202.93,121.8 203.00,123.0 203.07,121.3 203.14,126.2 203.21,125.3 203.28,125.0 203.35,123.9 203.42,124.7 203.49,125.0 203.56,124.7 203.63,124.6 203.70,122.5 203.77,124.1 203.84,122.9 203.91,122.2 203.98,122.2 204.05,124.0 204.12,124.7 204.19,121.9 204.26,125.5 204.33,125.2 204.40,123.1 204.47,123.0 204.54,123.4 204.61,124.6 204.68,123.0 204.75,122.2 204.82,123.8 204.89,121.1 204.96,123.6 205.03,124.8 205.10,123.8 205.17,124.3 205.24,124.0 205.31,124.2 205.38,123.5 205.45,122.4 205.52,123.1 205.59,123.3 205.66,124.8 205.73,125.2 205.80,123.8 205.87,122.4 205.94,122.5 206.01,123.1 206.08,124.9 206.15,123.6 206.22,123.2 206.29,122.4 206.36,124.2 206.43,123.5 206.50,123.1 206.57,123.3 206.64,125.1 206.71,123.0 206.78,125.1 206.85,124.6 206.92,123.2 206.99,124.1 207.06,123.0 207.13,122.1 207.20,122.8 207.27,122.0 207.34,123.6 207.41,123.1 207.48,123.7 207.55,124.0 207.62,119.4 207.69,123.4 207.76,120.9 207.83,123.2 207.90,121.9 207.97,123.1 208.04,124.5 208.11,121.0 208.18,123.1 208.25,122.8 208.32,120.7 208.39,123.6 208.46,122.9 208.53,122.2 208.60,122.0 208.67,126.5 208.74,122.3 208.81,120.7 208.88,121.7 208.95,122.3 209.02,122.3 209.09,122.6 209.16,121.5 209.23,123.3 209.30,122.1 209.37,121.1 209.44,121.7 209.51,122.2 209.58,123.6 209.65,123.2 209.72,122.2 209.79,122.6 209.86,122.8 209.93,124.9 210.00,121.8 210.07,123.1 210.14,123.3 210.21,121.4 210.28,122.7 210.35,122.6 210.42,121.9 210.49,123.1 210.56,123.6 210.63,123.7 210.70,122.2 210.77,122.6 210.84,125.1 210.91,121.1 210.98,122.6 211.05,123.3 211.12,122.5 211.19,123.0 211.26,122.5 211.33,123.1 211.40,123.7 211.47,122.0 211.54,122.4 211.61,122.1 211.68,121.7 211.75,122.1 211.82,120.8 211.89,123.0 211.96,124.1 212.03,124.1 212.10,123.5 212.17,121.0 212.24,123.8 212.31,121.2 212.38,122.0 212.45,124.1 212.52,120.8 212.59,122.9 212.66,122.3 212.73,121.8 212.80,120.9 212.87,122.4 212.94,121.4 213.01,123.1 213.08,123.3 213.15,120.3 213.22,121.3 213.29,121.5 213.36,120.5 213.43,120.5 213.50,121.9 213.57,121.5 213.64,119.9 213.71,121.1 213.78,122.3 213.85,120.3 213.92,120.6 213.99,123.5 214.06,123.2 214.13,119.8 214.20,120.1 214.27,122.1 214.34,120.2 214.41,121.3 214.48,121.1 214.55,122.2 214.62,118.6 214.69,119.0 214.76,120.1 214.83,122.7 214.90,121.3 214.97,119.5 215.04,122.0 215.11,122.3 215.18,121.2 215.25,121.0 215.32,121.9 215.39,122.8 215.46,121.6 215.53,122.0 215.60,121.3 215.67,120.9 215.74,120.3 215.81,121.6 215.88,120.9 215.95,121.0 216.02,122.3 216.09,121.8 216.16,122.2 216.23,119.4 216.30,121.8 216.37,120.5 216.44,120.2 216.51,120.2 216.58,122.5 216.65,122.1 216.72,120.3 216.79,119.8 216.86,121.1 216.93,120.5 217.00,123.0 217.07,119.4 217.14,118.9 217.21,120.7 217.28,121.0 217.35,121.1 217.42,121.8 217.49,123.3 217.56,120.5 217.63,120.3 217.70,118.9 217.77,121.2 217.84,121.8 217.91,120.5 217.98,122.2 218.05,120.8 218.12,122.5 218.19,121.2 218.26,119.5 218.33,120.0 218.40,119.0 218.47,118.7 218.54,121.0 218.61,121.7 218.68,122.9 218.75,120.6 218.82,120.4 218.89,119.3 218.96,121.7 219.03,121.0 219.10,119.9 219.17,121.3 219.24,121.2 219.31,118.4 219.38,121.4 219.45,120.6 219.52,120.0 219.59,120.0 219.66,122.4 219.73,122.2 219.80,122.5 219.87,119.1 219.94,119.6 220.01,121.4 220.08,118.9 220.15,119.5 220.22,118.2 220.29,122.4 220.36,121.5 220.43,120.8 220.50,120.5 220.57,119.7 220.64,119.7 220.71,120.9 220.78,119.3 220.85,121.6 220.92,119.6 220.99,119.1 221.06,121.6 221.13,119.9 221.20,120.7 221.27,119.6 221.34,117.4 221.41,120.6 221.48,118.4 221.55,121.2 221.62,118.2 221.69,117.8 221.76,120.3 221.83,120.4 221.90,120.0 221.97,118.5 222.04,120.9 222.11,118.1 222.18,119.3 222.25,118.9 222.32,119.3 222.39,120.7 222.46,119.0 222.53,120.4 222.60,120.5 222.67,117.7 222.74,118.3 222.81,119.2 222.88,119.0 222.95,120.0 223.02,117.4 223.09,120.4 223.16,120.4 223.23,119.4 223.30,117.9 223.37,119.5 223.44,118.9 223.51,120.1 223.58,119.4 223.65,120.3 223.72,118.9 223.79,121.1 223.86,116.7 223.93,118.2 224.00,119.9 224.07,117.6 224.14,120.2 224.21,117.9 224.28,119.4 224.35,118.2 224.42,118.7 224.49,119.4 224.56,119.1 224.63,118.8 224.70,121.7 224.77,119.2 224.84,118.0 224.91,120.2 224.98,120.1 225.05,120.5 225.12,121.1 225.19,118.0 225.26,120.3 225.33,120.3 225.40,119.0 225.47,119.3 225.54,115.5 225.61,118.3 225.68,121.0 225.75,116.9 225.82,118.3 225.89,119.2 225.96,119.5 226.03,120.7 226.10,116.8 226.17,118.8 226.24,119.8 226.31,117.2 226.38,118.7 226.45,120.9 226.52,120.2 226.59,119.3 226.66,115.6 226.73,118.5 226.80,119.0 226.87,118.2 226.94,118.5 227.01,122.1 227.08,118.2 227.15,117.4 227.22,118.7 227.29,118.1 227.36,118.0 227.43,118.3 227.50,119.2 227.57,118.6 227.64,116.9 227.71,118.1 227.78,118.8 227.85,117.7 227.92,119.5 227.99,119.1 228.06,117.0 228.13,118.5 228.20,120.4 228.27,119.9 228.34,118.0 228.41,119.1 228.48,117.2 228.55,116.3 228.62,118.6 228.69,118.2 228.76,118.5 228.83,117.8 228.90,118.2 228.97,117.2 229.04,118.3 229.11,118.7 229.18,117.7 229.25,118.6 229.32,115.6 229.39,116.7 229.46,119.3 229.53,119.6 229.60,117.8 229.67,117.4 229.74,116.0 229.81,117.9 229.88,118.3 229.95,115.7 230.02,118.0 230.09,117.9 230.16,117.8 230.23,116.0 230.30,117.9 230.37,115.5 230.44,118.9 230.51,117.3 230.58,115.8 230.65,118.7 230.72,118.4 230.79,116.3 230.86,119.5 230.93,115.8 231.00,117.3 231.07,118.3 231.14,114.3 231.21,118.0 231.28,116.7 231.35,116.8 231.42,115.5 231.49,117.1 231.56,115.4 231.63,115.5 231.70,116.1 231.77,115.1 231.84,118.3 231.91,115.0 231.98,115.6 232.05,116.0 232.12,116.4 232.19,117.2 232.26,117.2 232.33,115.9 232.40,115.8 232.47,116.2 232.54,117.1 232.61,116.9 232.68,115.4 232.75,113.6 232.82,118.4 232.89,117.0 232.96,116.2 233.03,116.2 233.10,115.2 233.17,114.6 233.24,115.3 233.31,115.4 233.38,114.9 233.45,113.9 233.52,115.2 233.59,116.2 233.66,114.9 233.73,115.5 233.80,113.0 233.87,115.1 233.94,115.2 234.01,113.9 234.08,113.3 234.15,115.8 234.22,114.4 234.29,115.8 234.36,114.8 234.43,116.0 234.50,114.9 234.57,113.5 234.64,115.2 234.71,114.9 234.78,116.1 234.85,114.8 234.92,114.9 234.99,116.4 235.06,116.7 235.13,116.3 235.20,116.6 235.27,116.0 235.34,116.4 235.41,116.6 235.48,116.1 235.55,115.7 235.62,115.8 235.69,118.5 235.76,115.8 235.83,115.5 235.90,115.4 235.97,115.9 236.04,116.2 236.11,114.7 236.18,113.7 236.25,116.4 236.32,114.3 236.39,116.5 236.46,116.4 236.53,117.6 236.60,118.2 236.67,116.8 236.74,115.7 236.81,115.1 236.88,115.5 236.95,116.5 237.02,114.2 237.09,116.7 237.16,116.6 237.23,117.4 237.30,116.3 237.37,116.8 237.44,115.9 237.51,116.3 237.58,114.8 237.65,117.0 237.72,118.7 237.79,117.1 237.86,117.4 237.93,115.9 238.00,118.7 238.07,116.2 238.14,118.0 238.21,117.3 238.28,116.1 238.35,118.4 238.42,117.3 238.49,117.5 238.56,117.8 238.63,117.3 238.70,116.9 238.77,117.9 238.84,117.0 238.91,117.5 238.98,116.7 239.05,115.8 239.12,116.8 239.19,117.0 239.26,117.6 239.33,119.0 239.40,115.7 239.47,117.9 239.54,115.2 239.61,116.6 239.68,117.2 239.75,115.2 239.82,115.7 239.89,118.1 239.96,118.0 240.03,117.8 240.10,117.1 240.17,120.5 240.24,117.9 240.31,117.1 240.38,120.0 240.45,118.9 240.52,117.7 240.59,119.6 240.66,118.4 240.73,119.0 240.80,118.6 240.87,117.1 240.94,119.5 241.01,118.6 241.08,117.3 241.15,117.6 241.22,119.6 241.29,118.1"/>
<polyline stroke="#1f5fe3" stroke-width="0.75" points="41.30,78.3 41.37,78.9 41.44,77.9 41.51,76.8 41.58,77.6 41.65,76.7 41.72,78.7 41.79,81.0 41.86,77.8 41.93,77.6 42.00,79.6 42.07,79.4 42.14,79.0 42.21,77.2 42.28,78.8 42.35,80.2 42.42,76.6 42.49,78.2 42.56,75.7 42.63,76.8 42.70,75.9 42.77,78.8 42.84,77.0 42.91,79.7 42.98,79.6 43.05,79.0 43.12,75.0 43.19,78.5 43.26,79.4 43.33,79.7 43.40,76.9 43.47,78.8 43.54,78.0 43.61,78.3 43.68,81.5 43.75,78.4 43.82,79.7 43.89,81.4 43.96,78.9 44.03,79.7 44.10,80.1 44.17,80.1 44.24,78.0 44.31,80.2 44.38,82.4 44.45,77.6 44.52,81.6 44.59,80.4 44.66,79.2 44.73,83.7 44.80,81.6 44.87,78.4 44.94,80.6 45.01,81.4 45.08,80.2 45.15,81.7 45.22,80.5 45.29,81.7 45.36,83.0 45.43,79.6 45.50,81.1 45.57,80.0 45.64,81.0 45.71,78.9 45.78,79.9 45.85,80.6 45.92,82.4 45.99,82.8 46.06,78.9 46.13,79.8 46.20,82.1 46.27,77.9 46.34,80.4 46.41,81.1 46.48,83.3 46.55,82.4 46.62,80.8 46.69,80.8 46.76,81.0 46.83,83.8 46.90,80.8 46.97,81.0 47.04,82.1 47.11,81.4 47.18,81.3 47.25,79.9 47.32,81.7 47.39,81.0 47.46,83.6 47.53,82.8 47.60,81.8 47.67,82.9 47.74,81.4 47.81,83.6 47.88,82.0 47.95,82.9 48.02,80.0 48.09,82.6 48.16,79.5 48.23,79.0 48.30,81.7 48.37,80.8 48.44,82.5 48.51,85.7 48.58,81.1 48.65,81.4 48.72,82.7 48.79,83.2 48.86,82.2 48.93,82.2 49.00,83.6 49.07,83.4 49.14,81.0 49.21,82.5 49.28,82.7 49.35,81.1 49.42,83.1 49.49,81.5 49.56,84.3 49.63,83.1 49.70,83.0 49.77,82.0 49.84,82.8 49.91,80.0 49.98,81.3 50.05,83.6 50.12,79.9 50.19,84.3 50.26,80.5 50.33,84.3 50.40,81.9 50.47,84.4 50.54,83.4 50.61,81.0 50.68,85.2 50.75,85.5 50.82,83.3 50.89,83.0 50.96,83.2 51.03,82.1 51.10,85.1 51.17,82.7 51.24,83.5 51.31,82.4 51.38,82.7 51.45,81.8 51.52,85.5 51.59,83.5 51.66,85.1 51.73,83.8 51.80,82.8 51.87,83.4 51.94,83.1 52.01,83.9 52.08,83.4 52.15,83.5 52.22,82.0 52.29,82.8 52.36,86.4 52.43,83.1 52.50,82.6 52.57,84.6 52.64,86.1 52.71,82.1 52.78,83.9 52.85,83.3 52.92,81.8 52.99,85.3 53.06,84.3 53.13,84.4 53.20,83.3 53.27,85.0 53.34,83.7 53.41,84.2 53.48,82.9 53.55,82.8 53.62,86.4 53.69,83.8 53.76,85.0 53.83,84.6 53.90,84.0 53.97,84.0 54.04,85.6 54.11,84.3 54.18,84.5 54.25,84.8 54.32,86.4 54.39,85.8 54.46,85.4 54.53,84.1 54.60,83.0 54.67,86.2 54.74,86.3 54.81,84.8 54.88,85.8 54.95,86.1 55.02,86.2 55.09,86.3 55.16,84.5 55.23,87.2 55.30,83.5 55.37,86.4 55.44,85.9 55.51,86.4 55.58,87.8 55.65,87.3 55.72,83.7 55.79,83.0 55.86,86.5 55.93,84.0 56.00,85.4 56.07,86.6 56.14,83.2 56.21,82.6 56.28,85.8 56.35,85.6 56.42,85.2 56.49,85.6 56.56,84.4 56.63,83.6 56.70,85.4 56.77,84.3 56.84,83.4 56.91,86.3 56.98,85.6 57.05,86.2 57.12,84.4 57.19,84.9 57.26,84.4 57.33,84.6 57.40,86.0 57.47,84.8 57.54,86.3 57.61,86.3 57.68,88.5 57.75,84.0 57.82,87.0 57.89,85.8 57.96,85.9 58.03,84.0 58.10,85.3 58.17,86.9 58.24,85.8 58.31,86.1 58.38,85.6 58.45,87.5 58.52,86.0 58.59,83.1 58.66,85.1 58.73,83.4 58.80,81.8 58.87,85.3 58.94,87.8 59.01,86.1 59.08,84.5 59.15,84.9 59.22,87.6 59.29,86.3 59.36,86.2 59.43,86.1 59.50,86.2 59.57,87.2 59.64,86.9 59.71,86.4 59.78,84.8 59.85,86.8 59.92,85.3 59.99,87.6 60.06,84.6 60.13,86.0 60.20,86.2 60.27,84.5 60.34,88.5 60.41,88.1 60.48,85.7 60.55,87.3 60.62,86.8 60.69,82.9 60.76,86.6 60.83,86.2 60.90,86.4 60.97,84.9 61.04,86.0 61.11,86.1 61.18,87.9 61.25,86.8 61.32,86.4 61.39,88.3 61.46,85.7 61.53,85.9 61.60,84.1 61.67,88.4 61.74,87.6 61.81,87.6 61.88,87.3 61.95,86.6 62.02,86.7 62.09,86.1 62.16,86.2 62.23,86.5 62.30,88.4 62.37,87.2 62.44,86.4 62.51,85.7 62.58,85.7 62.65,88.5 62.72,87.1 62.79,86.6 62.86,86.1 62.93,85.1 63.00,86.4 63.07,87.6 63.14,86.0 63.21,86.3 63.28,86.3 63.35,86.7 63.42,84.5 63.49,86.3 63.56,85.5 63.63,87.7 63.70,85.6 63.77,87.3 63.84,88.5 63.91,86.2 63.98,85.8 64.05,86.8 64.12,86.6 64.19,85.4 64.26,87.2 64.33,89.1 64.40,86.3 64.47,86.4 64.54,85.3 64.61,87.0 64.68,85.1 64.75,85.3 64.82,88.3 64.89,85.5 64.96,88.0 65.03,88.6 65.10,87.0 65.17,87.4 65.24,89.1 65.31,86.5 65.38,86.0 65.45,85.0 65.52,86.8 65.59,88.6 65.66,87.9 65.73,85.6 65.80,85.7 65.87,86.1 65.94,87.1 66.01,86.5 66.08,87.0 66.15,87.1 66.22,86.4 66.29,86.7 66.36,87.0 66.43,86.7 66.50,87.4 66.57,89.1 66.64,87.5 66.71,86.9 66.78,84.7 66.85,87.3 66.92,84.4 66.99,85.1 67.06,87.9 67.13,87.7 67.20,86.7 67.27,84.7 67.34,86.4 67.41,86.0 67.48,87.6 67.55,89.6 67.62,87.1 67.69,85.9 67.76,85.4 67.83,86.8 67.90,86.7 67.97,85.5 68.04,87.0 68.11,85.5 68.18,88.2 68.25,88.2 68.32,88.2 68.39,86.3 68.46,87.5 68.53,86.7 68.60,86.4 68.67,86.5 68.74,85.3 68.81,85.1 68.88,87.9 68.95,86.7 69.02,87.2 69.09,88.1 69.16,84.8 69.23,85.9 69.30,87.1 69.37,87.4 69.44,86.4 69.51,88.1 69.58,87.1 69.65,85.4 69.72,85.7 69.79,87.8 69.86,87.4 69.93,84.5 70.00,88.5 70.07,87.6 70.14,88.4 70.21,86.3 70.28,86.4 70.35,85.4 70.42,89.8 70.49,86.5 70.56,88.7 70.63,85.9 70.70,86.9 70.77,84.7 70.84,86.2 70.91,87.8 70.98,85.1 71.05,87.9 71.12,87.0 71.19,85.3 71.26,85.9 71.33,86.0 71.40,86.4 71.47,85.8 71.54,85.5 71.61,86.1 71.68,85.2 71.75,84.8 71.82,86.3 71.89,87.4 71.96,84.5 72.03,86.3 72.10,85.5 72.17,85.0 72.24,87.2 72.31,85.5 72.38,87.9 72.45,85.2 72.52,86.5 72.59,85.8 72.66,85.1 72.73,86.7 72.80,85.8 72.87,86.7 72.94,85.8 73.01,84.6 73.08,85.7 73.15,85.9 73.22,86.9 73.29,84.7 73.36,85.7 73.43,83.6 73.50,86.4 73.57,84.3 73.64,83.4 73.71,85.5 73.78,86.8 73.85,83.7 73.92,84.2 73.99,84.5 74.06,84.0 74.13,85.8 74.20,84.4 74.27,84.4 74.34,86.0 74.41,84.3 74.48,85.7 74.55,84.0 74.62,83.7 74.69,82.9 74.76,87.3 74.83,84.7 74.90,85.3 74.97,84.9 75.04,85.1 75.11,85.0 75.18,87.2 75.25,83.6 75.32,83.0 75.39,83.6 75.46,83.2 75.53,85.6 75.60,85.7 75.67,83.5 75.74,83.0 75.81,84.2 75.88,86.3 75.95,81.2 76.02,85.2 76.09,83.2 76.16,85.7 76.23,83.2 76.30,84.1 76.37,82.6 76.44,83.2 76.51,86.0 76.58,85.3 76.65,83.8 76.72,83.2 76.79,81.9 76.86,83.7 76.93,84.1 77.00,84.0 77.07,83.9 77.14,82.7 77.21,83.9 77.28,83.9 77.35,85.4 77.42,86.1 77.49,83.7 77.56,82.9 77.63,83.7 77.70,83.0 77.77,82.8 77.84,83.6 77.91,82.4 77.98,84.3 78.05,83.4 78.12,83.8 78.19,83.3 78.26,82.6 78.33,82.3 78.40,83.1 78.47,82.7 78.54,83.6 78.61,83.3 78.68,81.6 78.75,83.3 78.82,81.6 78.89,82.4 78.96,82.7 79.03,80.6 79.10,83.1 79.17,83.1 79.24,82.7 79.31,82.4 79.38,82.4 79.45,81.7 79.52,82.4 79.59,82.1 79.66,82.8 79.73,81.2 79.80,82.9 79.87,82.7 79.94,82.4 80.01,82.0 80.08,83.1 80.15,80.5 80.22,82.9 80.29,82.6 80.36,82.6 80.43,82.7 80.50,81.4 80.57,81.9 80.64,82.9 80.71,82.6 80.78,82.3 80.85,80.2 80.92,82.6 80.99,83.3 81.06,83.1 81.13,82.1 81.20,80.0 81.27,82.9 81.34,81.6 81.41,78.7 81.48,82.1 81.55,79.9 81.62,80.1 81.69,80.8 81.76,83.0 81.83,81.0 81.90,81.7 81.97,83.4 82.04,83.2 82.11,81.2 82.18,81.0 82.25,79.7 82.32,80.4 82.39,81.6 82.46,81.6 82.53,81.2 82.60,82.2 82.67,80.1 82.74,80.9 82.81,81.8 82.88,81.6 82.95,82.1 83.02,81.3 83.09,80.4 83.16,81.1 83.23,79.5 83.30,78.7 83.37,81.3 83.44,80.5 83.51,80.9 83.58,78.5 83.65,80.0 83.72,79.7 83.79,79.3 83.86,77.7 83.93,79.9 84.00,81.3 84.07,80.6 84.14,79.4 84.21,80.1 84.28,81.0 84.35,76.8 84.42,79.8 84.49,80.6 84.56,80.7 84.63,81.8 84.70,81.1 84.77,80.1 84.84,80.1 84.91,80.6 84.98,79.0 85.05,79.6 85.12,80.6 85.19,81.8 85.26,79.3 85.33,79.4 85.40,79.6 85.47,80.9 85.54,79.3 85.61,81.0 85.68,78.1 85.75,79.0 85.82,78.9 85.89,80.0 85.96,80.3 86.03,77.3 86.10,77.9 86.17,79.3 86.24,78.1 86.31,77.1 86.38,80.0 86.45,79.3 86.52,79.3 86.59,78.1 86.66,79.8 86.73,78.3 86.80,79.8 86.87,77.4 86.94,77.5 87.01,78.7 87.08,77.6 87.15,79.1 87.22,78.6 87.29,77.2 87.36,78.3 87.43,77.8 87.50,79.2 87.57,77.3 87.64,77.5 87.71,79.4 87.78,80.6 87.85,80.2 87.92,77.9 87.99,78.1 88.06,79.6 88.13,77.6 88.20,76.6 88.27,77.8 88.34,78.1 88.41,76.6 88.48,75.6 88.55,75.8 88.62,78.2 88.69,76.5 88.76,77.2 88.83,77.6 88.90,78.0 88.97,76.9 89.04,77.8 89.11,76.1 89.18,76.7 89.25,75.9 89.32,78.4 89.39,77.0 89.46,76.1 89.53,76.5 89.60,76.6 89.67,77.6 89.74,74.9 89.81,75.5 89.88,76.3 89.95,79.6 90.02,77.7 90.09,76.5 90.16,77.4 90.23,78.9 90.30,76.2 90.37,76.0 90.44,77.8 90.51,76.9 90.58,77.1 90.65,75.7 90.72,78.5 90.79,78.2 90.86,76.8 90.93,76.9 91.00,73.7 91.07,76.8 91.14,75.8 91.21,76.5 91.28,76.7 91.35,75.5 91.42,73.9 91.49,76.3 91.56,74.9 91.63,75.4 91.70,75.0 91.77,75.3 91.84,73.0 91.91,77.0 91.98,75.9 92.05,76.8 92.12,77.8 92.19,75.5 92.26,73.3 92.33,74.3 92.40,73.9 92.47,74.7 92.54,75.4 92.61,72.9 92.68,75.6 92.75,73.4 92.82,75.5 92.89,74.9 92.96,74.7 93.03,74.9 93.10,74.3 93.17,74.2 93.24,72.9 93.31,74.8 93.38,76.9 93.45,77.1 93.52,76.3 93.59,75.5 93.66,73.9 93.73,76.3 93.80,74.5 93.87,74.5 93.94,74.2 94.01,74.6 94.08,73.9 94.15,74.3 94.22,73.1 94.29,73.9 94.36,76.9 94.43,74.2 94.50,73.9 94.57,74.8 94.64,75.0 94.71,72.8 94.78,73.8 94.85,75.1 94.92,74.3 94.99,74.1 95.06,75.7 95.13,73.1 95.20,74.0 95.27,73.2 95.34,75.5 95.41,71.5 95.48,73.0 95.55,73.1 95.62,74.4 95.69,74.3 95.76,75.2 95.83,71.7 95.90,74.4 95.97,73.1 96.04,72.7 96.11,74.0 96.18,72.3 96.25,70.9 96.32,72.9 96.39,71.5 96.46,72.5 96.53,73.6 96.60,73.5 96.67,75.0 96.74,72.9 96.81,71.3 96.88,72.2 96.95,71.9 97.02,71.6 97.09,73.4 97.16,72.2 97.23,70.6 97.30,73.7 97.37,72.7 97.44,73.2 97.51,72.9 97.58,73.4 97.65,72.7 97.72,74.1 97.79,73.1 97.86,73.0 97.93,73.0 98.00,70.8 98.07,72.3 98.14,72.2 98.21,72.7 98.28,70.8 98.35,74.3 98.42,72.5 98.49,70.9 98.56,70.3 98.63,71.9 98.70,72.1 98.77,71.4 98.84,72.3 98.91,71.4 98.98,72.7 99.05,71.2 99.12,72.0 99.19,73.1 99.26,74.9 99.33,70.8 99.40,71.4 99.47,70.9 99.54,72.8 99.61,70.5 99.68,71.2 99.75,71.7 99.82,70.6 99.89,70.6 99.96,71.1 100.03,69.2 100.10,70.0 100.17,71.1 100.24,71.7 100.31,71.3 100.38,69.5 100.45,71.0 100.52,72.4 100.59,72.1 100.66,71.3 100.73,70.4 100.80,72.1 100.87,70.7 100.94,70.0 101.01,70.4 101.08,72.9 101.15,71.5 101.22,72.5 101.29,70.6 101.36,72.2 101.43,70.4 101.50,70.9 101.57,73.9 101.64,71.9 101.71,70.4 101.78,70.9 101.85,71.3 101.92,72.3 101.99,70.4 102.06,68.9 102.13,70.5 102.20,70.9 102.27,70.9 102.34,72.3 102.41,71.1 102.48,71.7 102.55,69.4 102.62,71.7 102.69,73.1 102.76,71.5 102.83,70.9 102.90,70.8 102.97,72.6 103.04,69.5 103.11,70.4 103.18,71.0 103.25,71.3 103.32,69.9 103.39,70.8 103.46,70.1 103.53,70.5 103.60,70.2 103.67,69.0 103.74,70.3 103.81,71.3 103.88,69.1 103.95,69.9 104.02,71.0 104.09,68.9 104.16,70.3 104.23,68.9 104.30,71.4 104.37,72.7 104.44,72.4 104.51,69.8 104.58,70.8 104.65,70.1 104.72,70.1 104.79,71.7 104.86,68.4 104.93,71.1 105.00,69.8 105.07,71.4 105.14,70.0 105.21,69.0 105.28,70.1 105.35,70.6 105.42,69.7 105.49,70.2 105.56,69.0 105.63,67.2 105.70,70.6 105.77,70.4 105.84,69.7 105.91,69.6 105.98,70.7 106.05,69.0 106.12,68.6 106.19,69.2 106.26,70.8 106.33,67.8 106.40,70.7 106.47,68.6 106.54,68.0 106.61,70.7 106.68,69.2 106.75,67.7 106.82,68.8 106.89,70.3 106.96,70.6 107.03,68.7 107.10,69.6 107.17,69.9 107.24,68.3 107.31,69.5 107.38,69.0 107.45,68.4 107.52,68.4 107.59,69.0 107.66,69.0 107.73,68.3 107.80,68.4 107.87,70.2 107.94,69.1 108.01,69.8 108.08,70.2 108.15,69.5 108.22,71.4 108.29,67.8 108.36,69.6 108.43,68.3 108.50,70.8 108.57,70.6 108.64,66.4 108.71,67.5 108.78,69.3 108.85,69.5 108.92,69.4 108.99,68.4 109.06,69.0 109.13,69.2 109.20,68.4 109.27,69.6 109.34,65.8 109.41,69.1 109.48,67.2 109.55,69.4 109.62,68.0 109.69,67.3 109.76,68.7 109.83,67.2 109.90,67.2 109.97,66.4 110.04,68.2 110.11,68.7 110.18,69.3 110.25,68.0 110.32,69.3 110.39,68.1 110.46,67.9 110.53,68.7 110.60,69.2 110.67,67.6 110.74,67.7 110.81,67.8 110.88,68.0 110.95,66.9 111.02,69.1 111.09,67.4 111.16,68.4 111.23,66.9 111.30,68.2 111.37,68.2 111.44,67.3 111.51,70.1 111.58,68.1 111.65,69.7 111.72,68.8 111.79,66.9 111.86,67.2 111.93,68.1 112.00,67.7 112.07,67.6 112.14,67.2 112.21,65.4 112.28,67.2 112.35,64.9 112.42,67.9 112.49,66.6 112.56,66.6 112.63,67.2 112.70,67.7 112.77,65.7 112.84,65.3 112.91,66.1 112.98,65.0 113.05,66.2 113.12,69.1 113.19,66.0 113.26,68.0 113.33,65.6 113.40,67.5 113.47,66.8 113.54,67.1 113.61,67.8 113.68,69.1 113.75,67.3 113.82,67.2 113.89,65.9 113.96,67.7 114.03,66.7 114.10,67.9 114.17,66.9 114.24,69.0 114.31,64.6 114.38,66.6 114.45,67.9 114.52,66.5 114.59,65.9 114.66,66.5 114.73,65.2 114.80,66.9 114.87,69.6 114.94,68.1 115.01,65.5 115.08,65.7 115.15,66.2 115.22,67.8 115.29,65.7 115.36,65.9 115.43,67.6 115.50,67.6 115.57,66.2 115.64,65.3 115.71,64.8 115.78,65.7 115.85,63.9 115.92,67.4 115.99,65.8 116.06,67.0 116.13,68.6 116.20,67.8 116.27,65.1 116.34,67.4 116.41,67.7 116.48,65.5 116.55,65.2 116.62,66.2 116.69,64.5 116.76,68.0 116.83,63.5 116.90,65.0 116.97,65.9 117.04,65.9 117.11,66.4 117.18,66.5 117.25,65.9 117.32,67.4 117.39,63.7 117.46,66.1 117.53,65.3 117.60,66.2 117.67,66.3 117.74,65.0 117.81,65.3 117.88,66.9 117.95,66.4 118.02,65.2 118.09,68.3 118.16,68.6 118.23,64.2 118.30,66.2 118.37,68.8 118.44,66.8 118.51,66.1 118.58,65.6 118.65,65.2 118.72,65.5 118.79,65.1 118.86,66.6 118.93,65.3 119.00,65.2 119.07,64.3 119.14,65.6 119.21,64.6 119.28,65.4 119.35,66.8 119.42,66.0 119.49,66.2 119.56,66.0 119.63,65.6 119.70,65.4 119.77,65.2 119.84,66.4 119.91,64.2 119.98,67.0 120.05,65.5 120.12,64.6 120.19,64.9 120.26,64.6 120.33,65.6 120.40,64.5 120.47,66.7 120.54,64.4 120.61,62.7 120.68,64.5 120.75,63.0 120.82,65.2 120.89,66.5 120.96,66.0 121.03,63.7 121.10,64.3 121.17,67.2 121.24,65.5 121.31,65.2 121.38,66.4 121.45,67.9 121.52,66.6 121.59,65.2 121.66,65.5 121.73,65.8 121.80,64.3 121.87,63.8 121.94,65.1 122.01,63.9 122.08,64.9 122.15,65.1 122.22,67.6 122.29,63.9 122.36,64.8 122.43,64.7 122.50,65.4 122.57,66.1 122.64,64.3 122.71,63.9 122.78,62.9 122.85,63.7 122.92,65.4 122.99,64.8 123.06,63.6 123.13,64.3 123.20,64.8 123.27,65.3 123.34,64.0 123.41,64.4 123.48,62.6 123.55,63.3 123.62,66.5 123.69,62.1 123.76,64.2 123.83,64.8 123.90,64.1 123.97,63.6 124.04,64.5 124.11,64.5 124.18,64.4 124.25,62.3 124.32,64.3 124.39,63.5 124.46,63.8 124.53,64.7 124.60,65.1 124.67,65.4 124.74,63.8 124.81,65.4 124.88,65.7 124.95,65.6 125.02,65.9 125.09,64.1 125.16,64.1 125.23,65.2 125.30,62.7 125.37,64.5 125.44,63.6 125.51,63.8 125.58,62.2 125.65,63.1 125.72,64.1 125.79,65.2 125.86,65.3 125.93,64.0 126.00,63.9 126.07,63.1 126.14,64.5 126.21,63.8 126.28,64.7 126.35,66.0 126.42,64.0 126.49,62.3 126.56,63.0 126.63,62.3 126.70,62.6 126.77,65.4 126.84,64.2 126.91,62.2 126.98,64.7 127.05,65.3 127.12,63.5 127.19,63.1 127.26,63.5 127.33,64.2 127.40,64.6 127.47,65.2 127.54,65.2 127.61,65.1 127.68,65.3 127.75,64.5 127.82,62.0 127.89,63.6 127.96,64.1 128.03,63.3 128.10,64.7 128.17,63.3 128.24,62.6 128.31,65.3 128.38,64.4 128.45,63.9 128.52,64.7 128.59,64.8 128.66,64.0 128.73,60.7 128.80,62.8 128.87,63.0 128.94,62.4 129.01,63.7 129.08,64.9 129.15,62.9 129.22,62.2 129.29,65.8 129.36,62.9 129.43,62.0 129.50,63.7 129.57,63.9 129.64,62.6 129.71,64.3 129.78,62.8 129.85,62.3 129.92,63.5 129.99,64.2 130.06,62.6 130.13,63.7 130.20,63.2 130.27,66.5 130.34,62.4 130.41,64.8 130.48,63.2 130.55,63.1 130.62,64.0 130.69,64.2 130.76,64.6 130.83,63.5 130.90,62.5 130.97,62.5 131.04,63.7 131.11,63.8 131.18,64.7 131.25,63.6 131.32,64.3 131.39,64.8 131.46,63.2 131.53,61.3 131.60,61.7 131.67,61.3 131.74,64.8 131.81,62.0 131.88,64.4 131.95,63.6 132.02,64.9 132.09,64.1 132.16,62.8 132.23,62.7 132.30,63.0 132.37,63.1 132.44,62.2 132.51,62.8 132.58,64.7 132.65,60.9 132.72,63.1 132.79,61.7 132.86,63.0 132.93,63.7 133.00,62.7 133.07,63.6 133.14,60.9 133.21,64.0 133.28,62.0 133.35,63.4 133.42,62.9 133.49,59.7 133.56,61.8 133.63,62.9 133.70,64.4 133.77,62.9 133.84,62.9 133.91,60.9 133.98,64.2 134.05,64.6 134.12,62.6 134.19,62.3 134.26,60.6 134.33,63.5 134.40,65.6 134.47,63.3 134.54,63.9 134.61,63.0 134.68,61.3 134.75,63.9 134.82,61.0 134.89,62.1 134.96,62.7 135.03,63.3 135.10,62.8 135.17,62.7 135.24,61.4 135.31,60.8 135.38,62.3 135.45,61.4 135.52,60.7 135.59,60.8 135.66,61.6 135.73,60.1 135.80,60.6 135.87,60.3 135.94,62.3 136.01,62.6 136.08,64.4 136.15,60.4 136.22,61.3 136.29,63.1 136.36,61.8 136.43,61.6 136.50,64.0 136.57,61.6 136.64,60.6 136.71,60.4 136.78,62.3 136.85,62.3 136.92,60.3 136.99,60.7 137.06,62.5 137.13,62.5 137.20,61.1 137.27,62.5 137.34,62.4 137.41,59.7 137.48,61.4 137.55,62.2 137.62,61.0 137.69,59.2 137.76,61.3 137.83,62.5 137.90,63.4 137.97,59.1 138.04,64.6 138.11,60.2 138.18,62.6 138.25,62.9 138.32,62.6 138.39,61.6 138.46,60.1 138.53,62.1 138.60,60.5 138.67,58.4 138.74,64.6 138.81,62.1 138.88,63.4 138.95,60.2 139.02,62.9 139.09,63.0 139.16,63.0 139.23,61.1 139.30,59.8 139.37,60.9 139.44,58.6 139.51,59.1 139.58,61.2 139.65,59.9 139.72,60.8 139.79,60.9 139.86,63.2 139.93,62.4 140.00,60.9 140.07,62.3 140.14,60.0 140.21,60.5 140.28,61.9 140.35,59.4 140.42,60.5 140.49,59.3 140.56,60.9 140.63,62.6 140.70,59.9 140.77,61.0 140.84,59.7 140.91,59.4 140.98,59.2 141.05,62.3 141.12,63.3 141.19,61.2 141.26,59.8 141.33,61.4 141.40,60.2 141.47,61.5 141.54,60.9 141.61,60.9 141.68,61.2 141.75,59.8 141.82,60.0 141.89,58.5 141.96,60.0 142.03,58.8 142.10,60.3 142.17,59.3 142.24,60.6 142.31,61.0 142.38,58.8 142.45,59.5 142.52,59.3 142.59,61.3 142.66,62.4 142.73,61.4 142.80,60.0 142.87,62.1 142.94,58.7 143.01,62.1 143.08,59.6 143.15,57.2 143.22,63.4 143.29,62.2 143.36,59.2 143.43,60.6 143.50,60.2 143.57,60.5 143.64,58.7 143.71,59.6 143.78,60.9 143.85,60.7 143.92,61.8 143.99,60.5 144.06,63.1 144.13,59.6 144.20,60.7 144.27,58.2 144.34,59.0 144.41,61.9 144.48,59.3 144.55,61.0 144.62,60.3 144.69,59.2 144.76,60.0 144.83,59.8 144.90,59.9 144.97,61.3 145.04,61.2 145.11,59.8 145.18,59.4 145.25,60.8 145.32,60.3 145.39,61.6 145.46,63.5 145.53,61.4 145.60,60.4 145.67,60.2 145.74,59.5 145.81,59.4 145.88,59.3 145.95,60.0 146.02,60.0 146.09,61.3 146.16,60.0 146.23,60.2 146.30,59.1 146.37,62.4 146.44,61.1 146.51,62.5 146.58,61.4 146.65,62.2 146.72,60.2 146.79,61.3 146.86,63.6 146.93,59.1 147.00,61.9 147.07,62.5 147.14,61.0 147.21,61.4 147.28,62.0 147.35,59.8 147.42,61.0 147.49,59.5 147.56,59.8 147.63,59.8 147.70,60.4 147.77,60.8 147.84,61.1 147.91,59.0 147.98,63.0 148.05,62.0 148.12,61.5 148.19,60.3 148.26,60.6 148.33,61.4 148.40,61.2 148.47,58.8 148.54,61.7 148.61,64.2 148.68,58.6 148.75,62.0 148.82,61.3 148.89,60.8 148.96,62.5 149.03,59.5 149.10,61.1 149.17,62.7 149.24,60.8 149.31,60.5 149.38,61.2 149.45,60.5 149.52,62.9 149.59,60.0 149.66,62.1 149.73,59.6 149.80,61.9 149.87,61.0 149.94,58.1 150.01,61.2 150.08,60.0 150.15,60.7 150.22,63.1 150.29,60.0 150.36,60.0 150.43,63.0 150.50,61.5 150.57,63.2 150.64,61.7 150.71,60.3 150.78,61.3 150.85,62.9 150.92,62.6 150.99,61.5 151.06,61.5 151.13,61.4 151.20,60.8 151.27,63.8 151.34,61.6 151.41,60.2 151.48,61.0 151.55,62.5 151.62,62.4 151.69,61.5 151.76,60.9 151.83,61.7 151.90,59.7 151.97,60.2 152.04,62.7 152.11,61.2 152.18,62.2 152.25,63.2 152.32,62.6 152.39,61.9 152.46,64.4 152.53,62.7 152.60,61.5 152.67,62.8 152.74,62.4 152.81,60.9 152.88,62.1 152.95,61.8 153.02,59.7 153.09,61.8 153.16,61.7 153.23,61.6 153.30,60.2 153.37,61.7 153.44,62.1 153.51,62.3 153.58,60.8 153.65,62.9 153.72,60.8 153.79,62.0 153.86,63.8 153.93,61.5 154.00,61.7 154.07,63.6 154.14,61.9 154.21,62.0 154.28,62.6 154.35,63.6 154.42,59.8 154.49,61.5 154.56,61.3 154.63,61.2 154.70,61.5 154.77,61.5 154.84,62.9 154.91,61.5 154.98,62.7 155.05,63.1 155.12,61.8 155.19,62.8 155.26,64.6 155.33,63.1 155.40,62.0 155.47,62.7 155.54,61.7 155.61,63.1 155.68,63.8 155.75,61.9 155.82,62.6 155.89,64.2 155.96,62.3 156.03,63.1 156.10,61.7 156.17,62.0 156.24,62.4 156.31,65.5 156.38,62.6 156.45,62.5 156.52,62.4 156.59,62.9 156.66,63.9 156.73,63.4 156.80,65.6 156.87,63.5 156.94,64.9 157.01,63.6 157.08,64.0 157.15,61.7 157.22,63.2 157.29,63.3 157.36,63.1 157.43,60.9 157.50,64.5 157.57,63.0 157.64,63.0 157.71,63.2 157.78,63.3 157.85,64.0 157.92,62.1 157.99,62.6 158.06,64.0 158.13,63.8 158.20,63.3 158.27,63.1 158.34,62.8 158.41,63.7 158.48,65.2 158.55,62.6 158.62,65.6 158.69,64.8 158.76,63.4 158.83,64.8 158.90,62.3 158.97,62.0 159.04,62.5 159.11,63.6 159.18,63.7 159.25,63.5 159.32,64.2 159.39,61.7 159.46,64.7 159.53,62.6 159.60,63.4 159.67,63.8 159.74,62.9 159.81,62.7 159.88,63.1 159.95,64.3 160.02,65.0 160.09,65.0 160.16,63.3 160.23,63.5 160.30,63.4 160.37,65.0 160.44,62.2 160.51,65.9 160.58,64.0 160.65,63.7 160.72,65.0 160.79,65.8 160.86,65.0 160.93,65.9 161.00,64.8 161.07,66.1 161.14,66.2 161.21,64.6 161.28,66.4 161.35,65.0 161.42,64.9 161.49,63.8 161.56,64.5 161.63,65.8 161.70,63.4 161.77,65.7 161.84,65.3 161.91,65.3 161.98,62.4 162.05,64.9 162.12,65.8 162.19,64.2 162.26,65.2 162.33,62.3 162.40,65.9 162.47,64.4 162.54,66.1 162.61,63.0 162.68,66.0 162.75,64.9 162.82,66.1 162.89,64.2 162.96,64.5 163.03,67.8 163.10,64.3 163.17,64.5 163.24,65.0 163.31,64.1 163.38,66.7 163.45,67.3 163.52,64.6 163.59,63.4 163.66,66.7 163.73,66.7 163.80,66.4 163.87,66.8 163.94,64.5 164.01,65.3 164.08,63.9 164.15,63.9 164.22,66.7 164.29,64.8 164.36,68.2 164.43,65.7 164.50,64.8 164.57,66.5 164.64,67.7 164.71,66.2 164.78,64.2 164.85,66.1 164.92,67.3 164.99,65.1 165.06,64.8 165.13,66.9 165.20,65.9 165.27,64.5 165.34,65.3 165.41,64.9 165.48,66.1 165.55,65.9 165.62,67.1 165.69,66.6 165.76,64.0 165.83,66.3 165.90,66.9 165.97,66.4 166.04,67.1 166.11,65.3 166.18,64.8 166.25,67.0 166.32,64.7 166.39,63.5 166.46,67.2 166.53,65.2 166.60,65.6 166.67,64.4 166.74,64.5 166.81,64.7 166.88,65.6 166.95,66.5 167.02,63.4 167.09,67.0 167.16,64.7 167.23,64.9 167.30,66.9 167.37,66.1 167.44,64.4 167.51,68.3 167.58,65.2 167.65,66.5 167.72,66.4 167.79,67.8 167.86,65.7 167.93,67.4 168.00,65.4 168.07,67.6 168.14,65.4 168.21,65.9 168.28,68.5 168.35,66.7 168.42,66.5 168.49,68.9 168.56,66.8 168.63,65.4 168.70,67.2 168.77,65.0 168.84,67.7 168.91,67.8 168.98,65.8 169.05,65.7 169.12,66.7 169.19,66.5 169.26,65.3 169.33,67.1 169.40,64.1 169.47,66.0 169.54,66.1 169.61,66.2 169.68,66.9 169.75,65.1 169.82,67.2 169.89,66.4 169.96,65.8 170.03,65.0 170.10,65.2 170.17,67.0 170.24,65.5 170.31,66.7 170.38,67.9 170.45,67.9 170.52,68.5 170.59,66.3 170.66,65.4 170.73,67.9 170.80,67.1 170.87,68.0 170.94,66.8 171.01,68.1 171.08,67.7 171.15,67.6 171.22,67.4 171.29,67.3 171.36,67.1 171.43,67.1 171.50,68.0 171.57,66.2 171.64,68.8 171.71,66.7 171.78,68.0 171.85,66.8 171.92,66.6 171.99,69.2 172.06,66.6 172.13,65.5 172.20,66.1 172.27,66.6 172.34,69.4 172.41,67.2 172.48,68.0 172.55,65.8 172.62,67.4 172.69,67.8 172.76,69.1 172.83,66.2 172.90,67.7 172.97,67.4 173.04,65.9 173.11,67.0 173.18,66.8 173.25,64.4 173.32,67.8 173.39,67.7 173.46,66.6 173.53,65.6 173.60,68.8 173.67,67.5 173.74,68.3 173.81,68.8 173.88,66.6 173.95,68.1 174.02,66.9 174.09,67.1 174.16,67.1 174.23,67.2 174.30,68.5 174.37,67.4 174.44,67.1 174.51,66.9 174.58,67.7 174.65,66.3 174.72,66.7 174.79,67.2 174.86,66.7 174.93,67.2 175.00,66.6 175.07,69.6 175.14,68.9 175.21,67.9 175.28,67.3 175.35,69.9 175.42,67.8 175.49,67.3 175.56,67.8 175.63,67.8 175.70,69.1 175.77,67.4 175.84,69.9 175.91,66.4 175.98,68.3 176.05,66.3 176.12,69.6 176.19,67.1 176.26,67.4 176.33,68.6 176.40,69.0 176.47,66.3 176.54,67.1 176.61,65.9 176.68,67.7 176.75,67.5 176.82,67.2 176.89,66.8 176.96,67.2 177.03,66.8 177.10,68.2 177.17,69.4 177.24,65.4 177.31,67.5 177.38,67.2 177.45,68.2 177.52,66.6 177.59,67.5 177.66,66.5 177.73,68.5 177.80,67.8 177.87,67.5 177.94,68.2 178.01,67.5 178.08,66.0 178.15,68.4 178.22,68.1 178.29,67.6 178.36,68.9 178.43,69.2 178.50,66.6 178.57,66.9 178.64,69.6 178.71,69.5 178.78,67.0 178.85,66.5 178.92,67.1 178.99,67.3 179.06,66.1 179.13,67.9 179.20,66.4 179.27,66.5 179.34,69.0 179.41,67.1 179.48,67.9 179.55,68.7 179.62,68.9 179.69,67.6 179.76,68.0 179.83,67.0 179.90,70.0 179.97,68.8 180.04,66.7 180.11,68.0 180.18,68.9 180.25,68.6 180.32,70.2 180.39,69.6 180.46,67.5 180.53,68.0 180.60,66.6 180.67,68.4 180.74,68.3 180.81,71.2 180.88,68.2 180.95,65.7 181.02,67.4 181.09,68.3 181.16,66.7 181.23,67.2 181.30,67.8 181.37,68.6 181.44,68.0 181.51,67.2 181.58,69.1 181.65,67.6 181.72,67.7 181.79,66.7 181.86,67.4 181.93,69.0 182.00,66.4 182.07,68.2 182.14,69.1 182.21,67.9 182.28,68.6 182.35,67.0 182.42,69.8 182.49,69.6 182.56,68.6 182.63,66.4 182.70,67.2 182.77,69.5 182.84,70.4 182.91,68.8 182.98,69.9 183.05,67.7 183.12,68.2 183.19,68.4 183.26,68.9 183.33,66.7 183.40,69.6 183.47,70.0 183.54,67.2 183.61,66.9 183.68,68.9 183.75,67.8 183.82,65.8 183.89,69.5 183.96,68.7 184.03,68.0 184.10,71.0 184.17,68.7 184.24,67.7 184.31,68.7 184.38,67.4 184.45,67.7 184.52,69.1 184.59,68.0 184.66,68.1 184.73,70.6 184.80,69.7 184.87,69.6 184.94,69.3 185.01,69.3 185.08,70.4 185.15,68.7 185.22,70.9 185.29,67.6 185.36,68.5 185.43,67.2 185.50,68.4 185.57,69.4 185.64,70.5 185.71,68.0 185.78,68.8 185.85,68.4 185.92,68.0 185.99,67.5 186.06,68.9 186.13,66.9 186.20,69.0 186.27,68.9 186.34,68.1 186.41,67.7 186.48,67.3 186.55,71.1 186.62,67.4 186.69,70.7 186.76,69.6 186.83,68.5 186.90,67.6 186.97,70.2 187.04,71.0 187.11,67.9 187.18,68.7 187.25,70.2 187.32,69.4 187.39,71.3 187.46,68.4 187.53,69.7 187.60,67.6 187.67,71.5 187.74,68.2 187.81,66.5 187.88,68.9 187.95,68.9 188.02,71.3 188.09,68.7 188.16,69.1 188.23,69.8 188.30,71.0 188.37,69.1 188.44,70.4 188.51,69.8 188.58,68.8 188.65,69.3 188.72,69.2 188.79,68.2 188.86,70.6 188.93,67.6 189.00,70.6 189.07,70.3 189.14,69.2 189.21,68.4 189.28,69.0 189.35,69.8 189.42,70.2 189.49,69.6 189.56,70.5 189.63,68.7 189.70,69.6 189.77,67.5 189.84,70.2 189.91,69.5 189.98,68.9 190.05,70.7 190.12,70.2 190.19,66.2 190.26,69.5 190.33,67.7 190.40,70.6 190.47,72.3 190.54,68.8 190.61,69.5 190.68,69.2 190.75,69.9 190.82,70.2 190.89,71.0 190.96,68.4 191.03,71.3 191.10,68.4 191.17,69.8 191.24,70.9 191.31,70.4 191.38,68.5 191.45,68.7 191.52,69.0 191.59,69.5 191.66,70.9 191.73,68.1 191.80,70.1 191.87,70.3 191.94,70.3 192.01,70.2 192.08,71.4 192.15,70.2 192.22,70.6 192.29,70.3 192.36,71.7 192.43,67.5 192.50,71.2 192.57,69.4 192.64,69.4 192.71,68.6 192.78,67.6 192.85,69.3 192.92,68.9 192.99,70.3 193.06,68.1 193.13,71.4 193.20,70.1 193.27,69.5 193.34,69.0 193.41,68.9 193.48,68.5 193.55,69.2 193.62,69.8 193.69,69.6 193.76,68.2 193.83,69.5 193.90,68.8 193.97,70.0 194.04,72.0 194.11,70.6 194.18,69.5 194.25,68.0 194.32,68.3 194.39,68.0 194.46,70.7 194.53,69.0 194.60,70.0 194.67,69.2 194.74,70.0 194.81,71.6 194.88,69.2 194.95,69.6 195.02,69.0 195.09,71.0 195.16,68.8 195.23,68.7 195.30,68.4 195.37,68.4 195.44,70.6 195.51,73.0 195.58,68.9 195.65,71.1 195.72,70.3 195.79,68.8 195.86,69.7 195.93,69.8 196.00,69.3 196.07,72.3 196.14,67.9 196.21,70.5 196.28,70.5 196.35,69.4 196.42,70.3 196.49,71.1 196.56,70.3 196.63,70.6 196.70,70.9 196.77,67.8 196.84,71.9 196.91,72.8 196.98,71.3 197.05,71.3 197.12,68.6 197.19,70.1 197.26,69.3 197.33,69.5 197.40,71.3 197.47,69.3 197.54,70.1 197.61,68.0 197.68,70.1 197.75,70.4 197.82,69.4 197.89,69.4 197.96,72.4 198.03,68.9 198.10,69.1 198.17,69.4 198.24,71.7 198.31,72.7 198.38,70.7 198.45,69.5 198.52,69.8 198.59,71.5 198.66,69.3 198.73,72.0 198.80,72.0 198.87,70.4 198.94,71.1 199.01,71.2 199.08,72.2 199.15,69.2 199.22,71.7 199.29,70.0 199.36,69.5 199.43,70.5 199.50,70.2 199.57,69.3 199.64,68.6 199.71,69.3 199.78,72.1 199.85,72.7 199.92,71.2 199.99,71.8 200.06,69.9 200.13,70.4 200.20,70.8 200.27,69.2 200.34,69.3 200.41,70.6 200.48,70.1 200.55,69.3 200.62,70.9 200.69,70.2 200.76,71.7 200.83,70.5 200.90,70.2 200.97,70.7 201.04,70.3 201.11,69.8 201.18,70.1 201.25,71.4 201.32,71.3 201.39,72.0 201.46,68.6 201.53,70.1 201.60,70.1 201.67,70.8 201.74,70.1 201.81,70.0 201.88,71.5 201.95,70.8 202.02,69.3 202.09,72.1 202.16,71.8 202.23,70.0 202.30,71.6 202.37,69.8 202.44,71.9 202.51,70.4 202.58,69.7 202.65,70.2 202.72,69.8 202.79,70.9 202.86,70.9 202.93,70.7 203.00,70.0 203.07,66.5 203.14,70.8 203.21,68.5 203.28,71.0 203.35,72.0 203.42,71.0 203.49,70.3 203.56,70.5 203.63,70.6 203.70,70.1 203.77,70.1 203.84,69.7 203.91,72.1 203.98,70.7 204.05,71.8 204.12,70.5 204.19,70.8 204.26,70.6 204.33,71.3 204.40,71.7 204.47,71.0 204.54,70.0 204.61,69.9 204.68,72.7 204.75,70.5 204.82,70.5 204.89,72.5 204.96,72.1 205.03,71.4 205.10,70.4 205.17,73.5 205.24,71.3 205.31,71.5 205.38,70.6 205.45,69.2 205.52,69.3 205.59,71.3 205.66,71.3 205.73,70.6 205.80,69.5 205.87,69.2 205.94,70.5 206.01,69.2 206.08,71.9 206.15,72.2 206.22,74.1 206.29,71.9 206.36,70.2 206.43,69.9 206.50,66.9 206.57,70.2 206.64,70.7 206.71,72.0 206.78,71.6 206.85,71.6 206.92,71.2 206.99,71.7 207.06,72.6 207.13,69.7 207.20,70.4 207.27,69.4 207.34,72.8 207.41,72.5 207.48,71.8 207.55,69.6 207.62,71.2 207.69,70.7 207.76,71.1 207.83,70.8 207.90,71.6 207.97,70.5 208.04,72.0 208.11,71.3 208.18,70.7 208.25,70.9 208.32,70.5 208.39,72.0 208.46,70.7 208.53,71.4 208.60,70.6 208.67,69.3 208.74,72.1 208.81,69.8 208.88,71.8 208.95,71.5 209.02,69.2 209.09,70.0 209.16,70.5 209.23,70.1 209.30,69.7 209.37,71.9 209.44,70.8 209.51,71.5 209.58,70.6 209.65,71.4 209.72,70.2 209.79,71.1 209.86,71.8 209.93,71.2 210.00,70.6 210.07,69.9 210.14,71.3 210.21,71.5 210.28,70.8 210.35,70.3 210.42,71.8 210.49,74.0 210.56,70.8 210.63,71.5 210.70,71.6 210.77,68.2 210.84,71.3 210.91,70.4 210.98,72.8 211.05,70.9 211.12,70.3 211.19,70.9 211.26,71.4 211.33,70.5 211.40,71.1 211.47,69.6 211.54,70.9 211.61,72.1 211.68,73.5 211.75,72.0 211.82,71.5 211.89,72.6 211.96,72.4 212.03,73.1 212.10,72.5 212.17,71.1 212.24,71.5 212.31,71.4 212.38,71.6 212.45,71.5 212.52,70.4 212.59,68.8 212.66,70.5 212.73,68.9 212.80,71.3 212.87,71.3 212.94,69.3 213.01,72.1 213.08,72.3 213.15,71.4 213.22,73.2 213.29,73.4 213.36,69.9 213.43,72.5 213.50,71.8 213.57,71.8 213.64,72.4 213.71,70.5 213.78,70.6 213.85,70.4 213.92,70.5 213.99,71.2 214.06,69.7 214.13,70.1 214.20,72.0 214.27,71.3 214.34,71.8 214.41,69.2 214.48,70.4 214.55,70.7 214.62,71.4 214.69,70.7 214.76,72.4 214.83,71.3 214.90,71.4 214.97,71.4 215.04,72.2 215.11,70.8 215.18,72.7 215.25,71.9 215.32,71.6 215.39,71.4 215.46,72.0 215.53,72.6 215.60,72.5 215.67,71.8 215.74,72.4 215.81,71.6 215.88,72.9 215.95,71.4 216.02,69.0 216.09,73.0 216.16,71.6 216.23,70.1 216.30,71.2 216.37,70.4 216.44,73.9 216.51,72.0 216.58,69.6 216.65,72.1 216.72,71.0 216.79,73.7 216.86,70.3 216.93,68.9 217.00,71.5 217.07,71.1 217.14,71.0 217.21,69.0 217.28,72.0 217.35,73.4 217.42,69.3 217.49,72.8 217.56,70.8 217.63,74.2 217.70,72.0 217.77,71.3 217.84,72.8 217.91,72.1 217.98,70.8 218.05,72.3 218.12,70.9 218.19,69.5 218.26,73.9 218.33,71.1 218.40,70.8 218.47,71.9 218.54,69.7 218.61,70.0 218.68,71.0 218.75,70.9 218.82,71.6 218.89,72.8 218.96,71.0 219.03,72.1 219.10,72.3 219.17,70.3 219.24,71.8 219.31,70.5 219.38,72.8 219.45,72.1 219.52,71.6 219.59,70.0 219.66,71.7 219.73,70.7 219.80,72.4 219.87,71.5 219.94,70.7 220.01,72.7 220.08,72.4 220.15,70.9 220.22,72.9 220.29,71.3 220.36,71.3 220.43,71.8 220.50,70.8 220.57,71.1 220.64,71.4 220.71,73.4 220.78,73.4 220.85,71.3 220.92,73.5 220.99,71.6 221.06,72.1 221.13,72.7 221.20,72.0 221.27,74.4 221.34,71.9 221.41,70.3 221.48,73.2 221.55,71.2 221.62,71.3 221.69,68.2 221.76,72.8 221.83,72.6 221.90,72.6 221.97,72.8 222.04,73.6 222.11,71.6 222.18,72.8 222.25,70.8 222.32,71.3 222.39,72.9 222.46,72.2 222.53,70.2 222.60,72.1 222.67,71.5 222.74,70.8 222.81,72.2 222.88,71.3 222.95,69.9 223.02,70.4 223.09,73.8 223.16,70.0 223.23,72.0 223.30,72.4 223.37,72.5 223.44,70.3 223.51,71.4 223.58,71.9 223.65,72.7 223.72,71.0 223.79,70.4 223.86,72.9 223.93,73.0 224.00,72.2 224.07,71.1 224.14,72.2 224.21,71.9 224.28,72.7 224.35,70.3 224.42,71.9 224.49,71.6 224.56,70.5 224.63,72.0 224.70,71.8 224.77,71.3 224.84,72.3 224.91,70.2 224.98,71.7 225.05,72.3 225.12,72.1 225.19,73.1 225.26,70.4 225.33,70.1 225.40,72.1 225.47,72.3 225.54,74.3 225.61,72.5 225.68,70.8 225.75,72.8 225.82,70.9 225.89,70.1 225.96,74.8 226.03,72.2 226.10,72.7 226.17,72.5 226.24,73.9 226.31,72.2 226.38,73.3 226.45,70.7 226.52,70.3 226.59,73.5 226.66,73.6 226.73,72.5 226.80,72.1 226.87,72.1 226.94,71.1 227.01,73.7 227.08,72.6 227.15,72.5 227.22,72.3 227.29,73.1 227.36,72.5 227.43,72.8 227.50,70.6 227.57,72.5 227.64,74.4 227.71,71.3 227.78,71.8 227.85,72.9 227.92,73.0 227.99,72.6 228.06,70.1 228.13,72.5 228.20,70.6 228.27,71.0 228.34,72.6 228.41,71.6 228.48,72.9 228.55,75.6 228.62,72.8 228.69,72.8 228.76,70.9 228.83,71.2 228.90,70.7 228.97,71.3 229.04,70.7 229.11,71.2 229.18,71.7 229.25,70.8 229.32,70.3 229.39,70.4 229.46,72.5 229.53,72.0 229.60,73.2 229.67,73.2 229.74,71.6 229.81,72.8 229.88,70.3 229.95,74.6 230.02,73.4 230.09,71.7 230.16,70.7 230.23,72.4 230.30,69.9 230.37,71.1 230.44,72.9 230.51,72.1 230.58,71.4 230.65,73.1 230.72,70.8 230.79,72.3 230.86,71.4 230.93,71.0 231.00,72.6 231.07,70.9 231.14,74.2 231.21,71.4 231.28,74.3 231.35,70.8 231.42,72.7 231.49,70.7 231.56,70.5 231.63,72.2 231.70,72.8 231.77,70.6 231.84,73.4 231.91,71.1 231.98,72.2 232.05,72.5 232.12,72.7 232.19,70.0 232.26,73.9 232.33,72.7 232.40,71.6 232.47,70.9 232.54,70.1 232.61,70.5 232.68,72.7 232.75,71.7 232.82,70.8 232.89,71.5 232.96,73.9 233.03,71.7 233.10,71.4 233.17,73.6 233.24,72.6 233.31,72.2 233.38,71.4 233.45,70.3 233.52,70.8 233.59,71.6 233.66,71.9 233.73,72.5 233.80,72.7 233.87,72.4 233.94,72.4 234.01,71.0 234.08,69.6 234.15,71.5 234.22,71.0 234.29,71.4 234.36,71.8 234.43,70.7 234.50,70.9 234.57,72.0 234.64,72.3 234.71,71.4 234.78,72.7 234.85,71.9 234.92,71.0 234.99,72.2 235.06,74.3 235.13,71.4 235.20,73.5 235.27,73.7 235.34,73.9 235.41,71.2 235.48,74.5 235.55,72.3 235.62,71.9 235.69,71.9 235.76,72.9 235.83,72.2 235.90,72.0 235.97,73.7 236.04,71.3 236.11,71.0 236.18,73.1 236.25,73.0 236.32,73.4 236.39,71.0 236.46,73.4 236.53,72.7 236.60,74.2 236.67,70.8 236.74,72.4 236.81,71.9 236.88,70.4 236.95,71.4 237.02,73.5 237.09,71.7 237.16,71.4 237.23,73.2 237.30,73.3 237.37,73.3 237.44,71.3 237.51,72.1 237.58,73.4 237.65,71.5 237.72,71.4 237.79,73.2 237.86,74.0 237.93,70.9 238.00,69.2 238.07,70.6 238.14,71.1 238.21,72.1 238.28,72.9 238.35,72.1 238.42,71.4 238.49,72.4 238.56,71.1 238.63,72.2 238.70,71.5 238.77,75.3 238.84,73.2 238.91,71.3 238.98,71.1 239.05,71.7 239.12,70.4 239.19,71.4 239.26,71.4 239.33,73.3 239.40,71.8 239.47,71.4 239.54,70.7 239.61,70.9 239.68,72.2 239.75,72.0 239.82,73.6 239.89,71.5 239.96,73.5 240.03,72.6 240.10,72.3 240.17,70.0 240.24,70.8 240.31,73.1 240.38,73.9 240.45,72.5 240.52,73.2 240.59,71.8 240.66,71.9 240.73,71.5 240.80,73.4 240.87,72.7 240.94,72.0 241.01,71.9 241.08,72.9 241.15,72.7 241.22,71.3 241.29,74.3"/>
</g>
<rect x="21" y="9.4" width="240.5" height="193.6" fill="none" stroke="#4d4d4d" stroke-width="1.3"/>
<path d="M21.30 203V204.6 M41.30 203V206.5 M61.30 203V204.6 M81.30 203V206.5 M101.30 203V204.6 M121.30 203V206.5 M141.30 203V204.6 M161.30 203V206.5 M181.30 203V204.6 M201.30 203V206.5 M221.30 203V204.6 M241.30 203V206.5 M261.30 203V204.6" stroke="#4d4d4d" stroke-width="1.1" fill="none"/>
<text x="41.30" y="218" font-size="10.3" text-anchor="middle">10</text>
<text x="81.30" y="218" font-size="10.3" text-anchor="middle">20</text>
<text x="121.30" y="218" font-size="10.3" text-anchor="middle">30</text>
<text x="161.30" y="218" font-size="10.3" text-anchor="middle">40</text>
<text x="201.30" y="218" font-size="10.3" text-anchor="middle">50</text>
<text x="241.30" y="218" font-size="10.3" text-anchor="middle">60</text>
<text x="141.3" y="228.7" font-size="10.8" text-anchor="middle">2θ [°]</text>
<text transform="translate(12.6,106.1) rotate(-90)" font-size="11" text-anchor="middle">Intensity [a.u.]</text>
<text x="34" y="62.6" font-size="10">CuO-Bi<tspan font-size="6.4" dy="2.5">2</tspan><tspan dy="-2.5">O</tspan><tspan font-size="6.4" dy="2.5">3</tspan><tspan dy="-2.5">/SiO</tspan><tspan font-size="6.4" dy="2.5">2</tspan></text>
<text x="40" y="114.5" font-size="10">CuO/SiO<tspan font-size="6.4" dy="2.5">2</tspan></text>
<text x="40.4" y="179.6" font-size="10">CuO ref.</text>
<text class="serif" x="133" y="252.8" font-size="14.5" text-anchor="middle"><tspan font-weight="normal">(</tspan>a<tspan font-weight="normal">)</tspan></text>
<g clip-path="url(#cb)" fill="none" stroke-linejoin="round">
<polyline stroke="#b3b3b3" stroke-width="1.3" points="318.10,24.1 318.35,24.5 318.60,24.5 318.85,24.5 319.10,24.5 319.35,24.3 319.60,24.5 319.85,24.7 320.10,24.6 320.35,24.7 320.60,24.4 320.85,24.7 321.10,24.7 321.35,24.4 321.60,24.4 321.85,24.5 322.10,24.7 322.35,24.7 322.60,24.7 322.85,24.7 323.10,24.7 323.35,24.8 323.60,24.8 323.85,24.8 324.10,24.8 324.35,24.9 324.60,24.8 324.85,25.0 325.10,24.8 325.35,25.1 325.60,24.9 325.85,25.0 326.10,24.9 326.35,24.9 326.60,25.0 326.85,25.0 327.10,25.0 327.35,24.9 327.60,25.1 327.85,25.1 328.10,25.2 328.35,25.3 328.60,25.1 328.85,24.9 329.10,25.2 329.35,25.0 329.60,25.1 329.85,25.4 330.10,25.4 330.35,25.2 330.60,25.2 330.85,25.3 331.10,25.2 331.35,25.4 331.60,25.4 331.85,25.6 332.10,25.3 332.35,25.6 332.60,25.4 332.85,25.6 333.10,25.4 333.35,25.6 333.60,25.5 333.85,25.5 334.10,25.6 334.35,25.7 334.60,25.7 334.85,25.8 335.10,25.8 335.35,25.4 335.60,25.7 335.85,25.5 336.10,25.7 336.35,25.8 336.60,25.6 336.85,25.7 337.10,25.8 337.35,25.8 337.60,26.1 337.85,25.9 338.10,26.0 338.35,26.1 338.60,25.9 338.85,26.0 339.10,25.9 339.35,26.0 339.60,26.1 339.85,26.2 340.10,26.0 340.35,26.0 340.60,26.0 340.85,25.9 341.10,26.1 341.35,26.3 341.60,25.9 341.85,25.9 342.10,26.3 342.35,26.0 342.60,26.3 342.85,26.1 343.10,26.3 343.35,26.4 343.60,26.3 343.85,26.4 344.10,26.3 344.35,26.4 344.60,26.5 344.85,26.5 345.10,26.3 345.35,26.3 345.60,26.4 345.85,26.4 346.10,26.4 346.35,26.3 346.60,26.5 346.85,26.4 347.10,26.5 347.35,26.5 347.60,26.6 347.85,26.3 348.10,26.7 348.35,26.6 348.60,26.6 348.85,26.6 349.10,26.7 349.35,26.6 349.60,26.6 349.85,26.6 350.10,26.4 350.35,26.6 350.60,26.6 350.85,26.6 351.10,26.9 351.35,26.4 351.60,26.7 351.85,26.8 352.10,26.8 352.35,26.8 352.60,26.5 352.85,26.6 353.10,26.8 353.35,26.7 353.60,26.9 353.85,26.8 354.10,26.8 354.35,26.8 354.60,26.8 354.85,26.8 355.10,26.7 355.35,26.8 355.60,26.8 355.85,26.9 356.10,26.7 356.35,26.7 356.60,26.9 356.85,26.9 357.10,26.8 357.35,26.9 357.60,26.8 357.85,27.2 358.10,26.8 358.35,27.2 358.60,26.9 358.85,27.1 359.10,27.0 359.35,27.0 359.60,27.2 359.85,27.2 360.10,27.0 360.35,27.0 360.60,27.4 360.85,27.3 361.10,27.2 361.35,27.1 361.60,27.2 361.85,27.2 362.10,27.3 362.35,27.1 362.60,27.2 362.85,27.2 363.10,27.4 363.35,27.5 363.60,27.3 363.85,27.4 364.10,27.5 364.35,27.3 364.60,27.2 364.85,27.5 365.10,27.5 365.35,27.4 365.60,27.6 365.85,27.5 366.10,27.2 366.35,27.5 366.60,27.5 366.85,27.7 367.10,27.5 367.35,27.5 367.60,27.6 367.85,27.6 368.10,27.4 368.35,27.6 368.60,27.6 368.85,27.8 369.10,27.9 369.35,27.5 369.60,27.6 369.85,27.6 370.10,27.7 370.35,27.7 370.60,27.8 370.85,27.9 371.10,27.7 371.35,27.7 371.60,27.6 371.85,28.0 372.10,28.1 372.35,27.8 372.60,27.8 372.85,28.0 373.10,28.2 373.35,28.2 373.60,28.1 373.85,28.2 374.10,28.2 374.35,28.1 374.60,28.5 374.85,28.3 375.10,28.2 375.35,28.3 375.60,28.2 375.85,28.5 376.10,28.6 376.35,28.4 376.60,28.8 376.85,28.9 377.10,28.8 377.35,28.7 377.60,28.8 377.85,28.9 378.10,28.8 378.35,28.9 378.60,29.1 378.85,29.2 379.10,29.4 379.35,29.2 379.60,29.7 379.85,29.7 380.10,29.8 380.35,29.7 380.60,30.1 380.85,29.9 381.10,30.3 381.35,30.3 381.60,30.2 381.85,30.4 382.10,30.9 382.35,30.9 382.60,30.9 382.85,31.2 383.10,31.3 383.35,31.4 383.60,31.6 383.85,31.8 384.10,32.0 384.35,32.3 384.60,32.3 384.85,32.7 385.10,32.9 385.35,33.2 385.60,33.5 385.85,33.8 386.10,33.9 386.35,34.2 386.60,34.4 386.85,34.8 387.10,34.9 387.35,35.2 387.60,35.6 387.85,35.8 388.10,36.2 388.35,36.3 388.60,36.9 388.85,37.0 389.10,37.4 389.35,37.7 389.60,38.2 389.85,38.5 390.10,38.9 390.35,39.3 390.60,40.0 390.85,40.4 391.10,41.2 391.35,41.8 391.60,41.9 391.85,42.6 392.10,43.4 392.35,44.0 392.60,44.5 392.85,45.0 393.10,45.5 393.35,46.0 393.60,46.7 393.85,47.0 394.10,47.3 394.35,47.9 394.60,48.5 394.85,48.9 395.10,49.6 395.35,50.1 395.60,50.7 395.85,51.5 396.10,52.1 396.35,52.7 396.60,53.6 396.85,54.6 397.10,55.8 397.35,56.6 397.60,57.8 397.85,58.8 398.10,59.7 398.35,61.2 398.60,62.5 398.85,63.9 399.10,65.5 399.35,67.5 399.60,68.6 399.85,70.3 400.10,72.0 400.35,73.5 400.60,74.7 400.85,76.6 401.10,78.2 401.35,80.1 401.60,82.0 401.85,83.8 402.10,85.8 402.35,88.1 402.60,89.9 402.85,92.4 403.10,94.9 403.35,97.4 403.60,100.2 403.85,102.9 404.10,106.1 404.35,109.2 404.60,112.4 404.85,115.3 405.10,117.8 405.35,120.3 405.60,123.1 405.85,126.2 406.10,129.9 406.35,134.2 406.60,137.7 406.85,140.6 407.10,142.9 407.35,145.7 407.60,148.8 407.85,152.2 408.10,155.9 408.35,159.7 408.60,162.5 408.85,165.1 409.10,167.3 409.35,169.6 409.60,171.6 409.85,173.9 410.10,176.0 410.35,178.2 410.60,180.1 410.85,181.7 411.10,183.1 411.35,183.6 411.60,184.0 411.85,183.7 412.10,183.2 412.35,181.8 412.60,180.2 412.85,176.4 413.10,172.5 413.35,169.1 413.60,165.7 413.85,162.1 414.10,158.9 414.35,156.1 414.60,152.9 414.85,150.3 415.10,147.3 415.35,144.4 415.60,141.5 415.85,137.9 416.10,133.9 416.35,129.1 416.60,124.5 416.85,119.7 417.10,115.1 417.35,111.3 417.60,107.3 417.85,104.0 418.10,100.5 418.35,97.1 418.60,94.0 418.85,90.2 419.10,86.7 419.35,82.9 419.60,78.9 419.85,75.4 420.10,72.2 420.35,69.4 420.60,66.9 420.85,64.4 421.10,62.1 421.35,59.7 421.60,58.1 421.85,56.2 422.10,54.8 422.35,53.3 422.60,52.2 422.85,50.8 423.10,49.6 423.35,48.1 423.60,47.0 423.85,45.6 424.10,44.6 424.35,43.2 424.60,42.2 424.85,41.1 425.10,40.3 425.35,39.6 425.60,38.7 425.85,38.0 426.10,37.2 426.35,37.0 426.60,36.3 426.85,36.0 427.10,35.8 427.35,34.9 427.60,34.7 427.85,34.5 428.10,34.4 428.35,34.0 428.60,33.8 428.85,33.5 429.10,33.5 429.35,33.1 429.60,33.1 429.85,32.5 430.10,32.5 430.35,32.8 430.60,32.5 430.85,32.2 431.10,32.5 431.35,32.2 431.60,32.1 431.85,31.8 432.10,31.8 432.35,31.7 432.60,31.3 432.85,31.4 433.10,31.2 433.35,31.3 433.60,31.2 433.85,30.9 434.10,30.8 434.35,30.8 434.60,30.8 434.85,30.7 435.10,30.6 435.35,30.7 435.60,30.6 435.85,30.6 436.10,30.5 436.35,30.3 436.60,30.2 436.85,30.4 437.10,30.3 437.35,30.2 437.60,30.2 437.85,30.0 438.10,30.1 438.35,29.8 438.60,30.0 438.85,30.0 439.10,30.3 439.35,30.1 439.60,29.9 439.85,29.9 440.10,30.0 440.35,29.8 440.60,29.8 440.85,29.7 441.10,30.0 441.35,29.7 441.60,29.4 441.85,29.7 442.10,29.9 442.35,29.4 442.60,30.0 442.85,29.5 443.10,29.6 443.35,29.4 443.60,29.4 443.85,29.3 444.10,29.3 444.35,29.1 444.60,29.5 444.85,29.2 445.10,29.4 445.35,29.4 445.60,29.3 445.85,29.4 446.10,29.3 446.35,29.3 446.60,29.3 446.85,29.3 447.10,29.2 447.35,29.1 447.60,29.2 447.85,29.3 448.10,29.5 448.35,29.5 448.60,29.3 448.85,29.4 449.10,29.3 449.35,29.4 449.60,29.3 449.85,29.3 450.10,29.2 450.35,29.2 450.60,29.5 450.85,29.1 451.10,29.2 451.35,29.2 451.60,29.3 451.85,29.5 452.10,29.2 452.35,28.9 452.60,29.3 452.85,29.3 453.10,29.0 453.35,29.2 453.60,29.2 453.85,28.9 454.10,29.3 454.35,29.3 454.60,29.2 454.85,29.1 455.10,29.1 455.35,29.1 455.60,29.3 455.85,29.1 456.10,29.4 456.35,29.3 456.60,28.9 456.85,29.4 457.10,29.2 457.35,29.1 457.60,29.2 457.85,29.0 458.10,29.2 458.35,28.9 458.60,29.1 458.85,29.4 459.10,29.4 459.35,29.2 459.60,29.1 459.85,29.3 460.10,29.2 460.35,29.2 460.60,29.3 460.85,29.1 461.10,29.3 461.35,28.9 461.60,29.4 461.85,29.0 462.10,29.1 462.35,29.1 462.60,29.3 462.85,29.3 463.10,29.3 463.35,29.3 463.60,29.3 463.85,29.2 464.10,29.0 464.35,28.9 464.60,28.9 464.85,29.2 465.10,29.2 465.35,29.2 465.60,29.2 465.85,29.2 466.10,29.1 466.35,29.0 466.60,29.0 466.85,29.4 467.10,29.3 467.35,29.0 467.60,29.2 467.85,29.3 468.10,29.4 468.35,29.1 468.60,29.2 468.85,29.3 469.10,29.0 469.35,29.1 469.60,29.2 469.85,29.1 470.10,29.5 470.35,29.3 470.60,29.2 470.85,29.1 471.10,29.3 471.35,29.3 471.60,29.1 471.85,29.2 472.10,29.0 472.35,29.2 472.60,29.3 472.85,29.3 473.10,29.3 473.35,29.3 473.60,29.2 473.85,29.2 474.10,29.4 474.35,29.3 474.60,29.1 474.85,29.3 475.10,29.4 475.35,29.3 475.60,29.3 475.85,29.2 476.10,29.3 476.35,29.5 476.60,29.3 476.85,29.2 477.10,29.3 477.35,29.1 477.60,29.3 477.85,29.3 478.10,29.4 478.35,29.3 478.60,29.4 478.85,29.6 479.10,29.3 479.35,29.2 479.60,29.4 479.85,29.3 480.10,29.4 480.35,29.3 480.60,29.4 480.85,29.4 481.10,29.1 481.35,29.3 481.60,29.4 481.85,29.5 482.10,29.3 482.35,29.3 482.60,29.5 482.85,29.3 483.10,29.4 483.35,29.4 483.60,29.5 483.85,29.4 484.10,29.3 484.35,29.5 484.60,29.3 484.85,29.3 485.10,29.7 485.35,29.5 485.60,29.3 485.85,29.3 486.10,29.4 486.35,29.3 486.60,29.2 486.85,29.5 487.10,29.5 487.35,29.4 487.60,29.4 487.85,29.4 488.10,29.5 488.35,29.3 488.60,29.4 488.85,29.4 489.10,29.5 489.35,29.5 489.60,29.3 489.85,29.3 490.10,29.6 490.35,29.3 490.60,29.4 490.85,29.4 491.10,29.6 491.35,29.4 491.60,29.4 491.85,29.3 492.10,29.4 492.35,29.5 492.60,29.5 492.85,29.3 493.10,29.6 493.35,29.4 493.60,29.3 493.85,29.5 494.10,29.4 494.35,29.4 494.60,29.4 494.85,29.4 495.10,29.4 495.35,29.2 495.60,29.5 495.85,29.4 496.10,29.6 496.35,29.5 496.60,29.5 496.85,29.5 497.10,29.6 497.35,29.4 497.60,29.3 497.85,29.5 498.10,29.1 498.35,29.4 498.60,29.5 498.85,29.4 499.10,29.6 499.35,29.5 499.60,29.5 499.85,29.4 500.10,29.6 500.35,29.4 500.60,29.4 500.85,29.6 501.10,29.5 501.35,29.7 501.60,29.4 501.85,29.2 502.10,29.6 502.35,29.6 502.60,29.4 502.85,29.7 503.10,29.7 503.35,29.4 503.60,29.4 503.85,29.3 504.10,29.5 504.35,29.6 504.60,29.6 504.85,29.3 505.10,29.4 505.35,29.3 505.60,29.3 505.85,29.3 506.10,29.3 506.35,29.5 506.60,29.5 506.85,29.6 507.10,29.5 507.35,29.4 507.60,29.5 507.85,29.6 508.10,29.4 508.35,29.5 508.60,29.4 508.85,29.4 509.10,29.5 509.35,29.3 509.60,29.6 509.85,29.3 510.10,29.5 510.35,29.3 510.60,29.7 510.85,29.6 511.10,29.4 511.35,29.4 511.60,29.4 511.85,29.5 512.10,29.5 512.35,29.8 512.60,29.3 512.85,29.6 513.10,29.4 513.35,29.5 513.60,29.6 513.85,29.6 514.10,29.5 514.35,29.5 514.60,29.5 514.85,29.5 515.10,29.6 515.35,29.3 515.60,29.4 515.85,29.3 516.10,29.4 516.35,29.4 516.60,29.6 516.85,29.8 517.10,29.7 517.35,29.4 517.60,29.5 517.85,29.4 518.10,29.6 518.35,29.7 518.60,29.6 518.85,29.6 519.10,29.5 519.35,29.3 519.60,29.3 519.85,29.5 520.10,29.6 520.35,29.7 520.60,29.5 520.85,29.5 521.10,29.5 521.35,29.6 521.60,29.5 521.85,29.4 522.10,29.6 522.35,29.6 522.60,29.5 522.85,29.3 523.10,29.5"/>
<polyline stroke="#1c1c1c" stroke-width="1.2" points="318.10,24.3 318.35,24.7 318.60,24.6 318.85,24.5 319.10,24.5 319.35,24.5 319.60,24.4 319.85,24.7 320.10,24.4 320.35,24.5 320.60,24.8 320.85,24.3 321.10,24.6 321.35,24.4 321.60,24.5 321.85,24.6 322.10,24.6 322.35,24.7 322.60,24.6 322.85,24.7 323.10,24.6 323.35,24.7 323.60,24.6 323.85,24.9 324.10,24.6 324.35,24.9 324.60,24.8 324.85,24.8 325.10,25.0 325.35,24.9 325.60,24.7 325.85,25.0 326.10,24.6 326.35,25.0 326.60,25.0 326.85,24.9 327.10,25.0 327.35,25.0 327.60,25.3 327.85,25.0 328.10,25.3 328.35,25.3 328.60,25.1 328.85,25.1 329.10,25.4 329.35,25.2 329.60,25.3 329.85,25.2 330.10,25.1 330.35,25.2 330.60,25.2 330.85,25.1 331.10,25.3 331.35,25.6 331.60,25.6 331.85,25.4 332.10,25.4 332.35,25.5 332.60,25.6 332.85,25.5 333.10,25.4 333.35,25.5 333.60,25.7 333.85,25.9 334.10,25.5 334.35,25.4 334.60,25.7 334.85,25.6 335.10,25.7 335.35,25.8 335.60,25.7 335.85,25.6 336.10,25.5 336.35,25.8 336.60,25.6 336.85,25.8 337.10,25.7 337.35,25.8 337.60,25.7 337.85,25.8 338.10,25.8 338.35,26.0 338.60,26.1 338.85,25.9 339.10,25.9 339.35,26.2 339.60,26.0 339.85,26.1 340.10,26.1 340.35,26.2 340.60,26.2 340.85,26.2 341.10,26.2 341.35,26.0 341.60,26.1 341.85,26.1 342.10,26.2 342.35,26.2 342.60,26.2 342.85,26.2 343.10,26.2 343.35,26.1 343.60,26.4 343.85,26.3 344.10,26.2 344.35,26.4 344.60,26.4 344.85,26.3 345.10,26.1 345.35,26.2 345.60,26.3 345.85,26.6 346.10,26.3 346.35,26.4 346.60,26.3 346.85,26.4 347.10,26.5 347.35,26.2 347.60,26.1 347.85,26.6 348.10,26.5 348.35,26.4 348.60,26.6 348.85,26.6 349.10,26.3 349.35,26.5 349.60,26.7 349.85,26.5 350.10,26.5 350.35,26.7 350.60,26.6 350.85,26.5 351.10,26.5 351.35,26.5 351.60,26.7 351.85,26.4 352.10,26.8 352.35,26.5 352.60,26.7 352.85,26.5 353.10,26.7 353.35,26.8 353.60,26.9 353.85,26.9 354.10,26.7 354.35,26.8 354.60,26.8 354.85,26.9 355.10,26.8 355.35,26.9 355.60,26.9 355.85,27.0 356.10,26.9 356.35,26.9 356.60,26.8 356.85,26.8 357.10,26.8 357.35,26.9 357.60,26.9 357.85,27.0 358.10,26.8 358.35,27.4 358.60,27.0 358.85,27.2 359.10,27.1 359.35,26.7 359.60,27.0 359.85,27.2 360.10,26.8 360.35,27.2 360.60,27.0 360.85,27.1 361.10,27.2 361.35,26.9 361.60,27.2 361.85,27.1 362.10,27.1 362.35,27.3 362.60,27.6 362.85,27.3 363.10,27.3 363.35,27.3 363.60,27.2 363.85,27.3 364.10,27.5 364.35,27.4 364.60,27.5 364.85,27.3 365.10,27.7 365.35,27.2 365.60,27.5 365.85,27.5 366.10,27.5 366.35,27.3 366.60,27.3 366.85,27.5 367.10,27.5 367.35,27.4 367.60,27.4 367.85,27.6 368.10,27.7 368.35,27.5 368.60,27.5 368.85,27.6 369.10,28.0 369.35,27.7 369.60,27.7 369.85,27.8 370.10,28.0 370.35,27.9 370.60,27.6 370.85,27.8 371.10,27.8 371.35,27.8 371.60,27.7 371.85,27.8 372.10,27.8 372.35,28.0 372.60,28.0 372.85,27.8 373.10,27.8 373.35,28.0 373.60,28.1 373.85,28.1 374.10,28.1 374.35,27.7 374.60,28.1 374.85,28.1 375.10,28.2 375.35,28.1 375.60,28.2 375.85,28.2 376.10,28.6 376.35,28.4 376.60,28.3 376.85,28.4 377.10,28.4 377.35,28.5 377.60,28.5 377.85,28.5 378.10,28.7 378.35,28.7 378.60,28.7 378.85,28.8 379.10,28.8 379.35,28.7 379.60,28.6 379.85,28.8 380.10,28.9 380.35,29.0 380.60,29.1 380.85,29.0 381.10,29.1 381.35,29.3 381.60,29.5 381.85,29.4 382.10,29.5 382.35,29.8 382.60,29.8 382.85,29.8 383.10,29.7 383.35,30.2 383.60,30.3 383.85,30.3 384.10,30.4 384.35,30.4 384.60,30.7 384.85,30.8 385.10,31.1 385.35,30.9 385.60,31.4 385.85,31.3 386.10,31.6 386.35,31.5 386.60,31.8 386.85,32.0 387.10,32.0 387.35,32.0 387.60,32.3 387.85,32.6 388.10,32.5 388.35,32.6 388.60,33.0 388.85,33.0 389.10,33.4 389.35,33.4 389.60,33.5 389.85,33.8 390.10,34.3 390.35,34.2 390.60,34.5 390.85,34.8 391.10,34.8 391.35,35.3 391.60,35.4 391.85,35.7 392.10,35.7 392.35,36.0 392.60,36.1 392.85,36.7 393.10,37.0 393.35,37.3 393.60,37.7 393.85,37.8 394.10,38.1 394.35,38.5 394.60,38.9 394.85,39.0 395.10,39.4 395.35,39.7 395.60,40.0 395.85,40.5 396.10,40.6 396.35,41.0 396.60,41.6 396.85,41.9 397.10,42.2 397.35,42.7 397.60,43.2 397.85,43.5 398.10,44.1 398.35,44.5 398.60,45.2 398.85,45.7 399.10,46.2 399.35,46.7 399.60,47.4 399.85,47.9 400.10,49.0 400.35,49.4 400.60,50.2 400.85,51.0 401.10,51.4 401.35,52.2 401.60,52.9 401.85,53.6 402.10,54.2 402.35,55.0 402.60,56.0 402.85,56.7 403.10,57.4 403.35,58.2 403.60,59.0 403.85,60.3 404.10,61.4 404.35,62.7 404.60,64.4 404.85,66.0 405.10,67.6 405.35,69.0 405.60,70.3 405.85,71.5 406.10,72.8 406.35,74.0 406.60,75.3 406.85,76.6 407.10,78.2 407.35,80.4 407.60,81.9 407.85,84.5 408.10,86.6 408.35,88.9 408.60,90.9 408.85,93.0 409.10,95.0 409.35,97.0 409.60,99.3 409.85,101.2 410.10,103.7 410.35,106.0 410.60,107.7 410.85,110.2 411.10,112.7 411.35,114.8 411.60,116.7 411.85,118.7 412.10,120.8 412.35,123.1 412.60,125.9 412.85,129.3 413.10,133.3 413.35,136.3 413.60,138.8 413.85,140.8 414.10,142.9 414.35,144.8 414.60,146.1 414.85,147.4 415.10,149.1 415.35,150.6 415.60,152.0 415.85,153.5 416.10,154.7 416.35,155.5 416.60,157.0 416.85,157.9 417.10,158.8 417.35,160.0 417.60,160.6 417.85,161.2 418.10,162.0 418.35,162.8 418.60,163.3 418.85,163.7 419.10,163.8 419.35,164.0 419.60,164.4 419.85,164.2 420.10,164.3 420.35,164.0 420.60,163.7 420.85,163.4 421.10,163.1 421.35,162.5 421.60,162.0 421.85,161.3 422.10,160.5 422.35,159.8 422.60,158.7 422.85,157.4 423.10,156.1 423.35,154.7 423.60,153.5 423.85,151.7 424.10,149.9 424.35,148.1 424.60,146.2 424.85,143.9 425.10,141.5 425.35,138.8 425.60,135.7 425.85,131.5 426.10,126.5 426.35,121.2 426.60,116.5 426.85,112.5 427.10,109.7 427.35,106.9 427.60,104.3 427.85,101.7 428.10,99.4 428.35,96.8 428.60,94.3 428.85,91.4 429.10,88.5 429.35,85.3 429.60,82.1 429.85,78.9 430.10,75.4 430.35,72.5 430.60,69.8 430.85,67.4 431.10,65.2 431.35,63.3 431.60,61.4 431.85,59.8 432.10,58.2 432.35,56.7 432.60,55.2 432.85,53.8 433.10,52.2 433.35,51.0 433.60,49.3 433.85,48.2 434.10,47.1 434.35,45.9 434.60,44.8 434.85,44.2 435.10,43.3 435.35,42.8 435.60,42.1 435.85,41.4 436.10,40.8 436.35,40.4 436.60,39.9 436.85,39.2 437.10,38.9 437.35,38.6 437.60,38.2 437.85,37.9 438.10,37.5 438.35,37.2 438.60,36.9 438.85,36.5 439.10,36.6 439.35,36.2 439.60,36.0 439.85,35.6 440.10,35.6 440.35,35.3 440.60,35.6 440.85,35.0 441.10,34.8 441.35,34.9 441.60,34.8 441.85,34.3 442.10,34.4 442.35,34.4 442.60,34.0 442.85,34.1 443.10,33.8 443.35,33.7 443.60,33.6 443.85,33.5 444.10,33.3 444.35,33.6 444.60,33.2 444.85,33.1 445.10,33.2 445.35,33.0 445.60,33.0 445.85,32.8 446.10,32.8 446.35,32.6 446.60,32.6 446.85,32.4 447.10,32.4 447.35,32.5 447.60,32.2 447.85,32.1 448.10,32.1 448.35,32.1 448.60,32.0 448.85,32.1 449.10,31.7 449.35,31.9 449.60,31.8 449.85,31.7 450.10,31.7 450.35,31.4 450.60,31.6 450.85,31.6 451.10,31.3 451.35,31.4 451.60,31.6 451.85,31.3 452.10,31.4 452.35,31.3 452.60,31.2 452.85,31.1 453.10,31.1 453.35,31.3 453.60,31.2 453.85,31.0 454.10,31.1 454.35,31.0 454.60,30.9 454.85,31.0 455.10,30.8 455.35,30.7 455.60,31.0 455.85,30.6 456.10,30.8 456.35,30.5 456.60,30.7 456.85,30.6 457.10,30.6 457.35,30.4 457.60,30.6 457.85,30.6 458.10,30.4 458.35,30.5 458.60,30.6 458.85,30.4 459.10,30.5 459.35,30.3 459.60,30.5 459.85,30.5 460.10,30.7 460.35,30.5 460.60,30.4 460.85,30.5 461.10,30.3 461.35,30.5 461.60,30.3 461.85,30.3 462.10,30.5 462.35,30.4 462.60,30.5 462.85,30.1 463.10,30.3 463.35,30.2 463.60,30.3 463.85,30.1 464.10,30.4 464.35,30.3 464.60,30.1 464.85,30.1 465.10,30.1 465.35,30.4 465.60,30.2 465.85,30.2 466.10,30.3 466.35,30.2 466.60,30.2 466.85,30.3 467.10,30.2 467.35,30.3 467.60,30.0 467.85,30.2 468.10,30.1 468.35,30.2 468.60,30.1 468.85,30.1 469.10,30.1 469.35,30.2 469.60,30.1 469.85,30.0 470.10,30.2 470.35,30.2 470.60,30.1 470.85,30.1 471.10,30.0 471.35,30.1 471.60,30.2 471.85,30.2 472.10,30.1 472.35,30.0 472.60,29.9 472.85,30.1 473.10,30.1 473.35,30.2 473.60,30.3 473.85,30.1 474.10,30.2 474.35,29.9 474.60,30.2 474.85,30.1 475.10,30.2 475.35,30.1 475.60,30.1 475.85,30.2 476.10,29.9 476.35,30.1 476.60,30.1 476.85,29.9 477.10,29.9 477.35,30.1 477.60,30.0 477.85,30.1 478.10,30.1 478.35,29.9 478.60,30.0 478.85,30.1 479.10,30.0 479.35,30.0 479.60,29.9 479.85,30.1 480.10,30.2 480.35,29.8 480.60,30.1 480.85,30.1 481.10,29.9 481.35,29.9 481.60,29.8 481.85,29.9 482.10,30.0 482.35,30.0 482.60,30.0 482.85,30.1 483.10,30.0 483.35,29.8 483.60,30.1 483.85,30.1 484.10,29.9 484.35,30.2 484.60,30.0 484.85,30.0 485.10,30.2 485.35,29.7 485.60,29.8 485.85,30.0 486.10,29.9 486.35,29.8 486.60,30.1 486.85,30.0 487.10,29.8 487.35,29.9 487.60,30.0 487.85,30.1 488.10,29.7 488.35,30.0 488.60,29.9 488.85,29.7 489.10,29.9 489.35,29.7 489.60,29.9 489.85,30.1 490.10,30.0 490.35,30.0 490.60,30.0 490.85,30.0 491.10,30.0 491.35,29.8 491.60,29.9 491.85,30.0 492.10,29.8 492.35,29.9 492.60,30.1 492.85,30.1 493.10,29.8 493.35,29.8 493.60,30.0 493.85,29.9 494.10,29.8 494.35,30.0 494.60,30.0 494.85,29.9 495.10,30.3 495.35,30.1 495.60,30.0 495.85,30.0 496.10,30.3 496.35,30.0 496.60,29.8 496.85,29.9 497.10,29.9 497.35,29.8 497.60,29.9 497.85,29.9 498.10,29.9 498.35,29.8 498.60,30.0 498.85,29.7 499.10,30.0 499.35,29.9 499.60,29.9 499.85,29.6 500.10,30.1 500.35,29.7 500.60,29.8 500.85,30.0 501.10,29.8 501.35,29.8 501.60,29.6 501.85,29.8 502.10,29.9 502.35,30.0 502.60,29.9 502.85,29.9 503.10,29.9 503.35,29.8 503.60,29.8 503.85,30.1 504.10,29.8 504.35,30.0 504.60,29.9 504.85,30.1 505.10,29.8 505.35,29.9 505.60,29.9 505.85,29.9 506.10,29.9 506.35,29.8 506.60,29.9 506.85,29.8 507.10,30.0 507.35,29.9 507.60,29.7 507.85,29.8 508.10,29.9 508.35,29.8 508.60,30.0 508.85,29.9 509.10,30.0 509.35,29.8 509.60,29.8 509.85,30.0 510.10,29.7 510.35,29.9 510.60,29.9 510.85,29.8 511.10,29.9 511.35,29.7 511.60,29.9 511.85,29.7 512.10,29.7 512.35,30.0 512.60,29.8 512.85,29.6 513.10,30.0 513.35,29.8 513.60,29.4 513.85,29.9 514.10,30.0 514.35,29.9 514.60,30.1 514.85,29.8 515.10,29.9 515.35,29.7 515.60,29.9 515.85,30.0 516.10,29.9 516.35,29.9 516.60,29.6 516.85,29.8 517.10,29.7 517.35,30.0 517.60,29.8 517.85,29.9 518.10,29.7 518.35,30.1 518.60,29.7 518.85,29.9 519.10,30.2 519.35,29.9 519.60,29.8 519.85,29.9 520.10,30.0 520.35,30.0 520.60,29.6 520.85,29.9 521.10,29.6 521.35,30.1 521.60,29.9 521.85,29.8 522.10,29.9 522.35,29.9 522.60,29.7 522.85,30.0 523.10,29.8"/>
<circle cx="318.4" cy="24.3" r="1.1" fill="#222"/>
</g>
<rect x="304.2" y="4.6" width="241.2" height="194.4" fill="none" stroke="#4d4d4d" stroke-width="1.3"/>
<path d="M304.20 199V202 M326.08 199V200.6 M347.96 199V202 M369.84 199V200.6 M391.72 199V202 M413.60 199V200.6 M435.48 199V202 M457.36 199V200.6 M479.24 199V202 M501.12 199V200.6 M523.00 199V202 M544.88 199V200.6" stroke="#4d4d4d" stroke-width="1.1" fill="none"/>
<text x="304.20" y="213.6" font-size="10.5" text-anchor="middle">0</text>
<text x="347.96" y="213.6" font-size="10.5" text-anchor="middle">100</text>
<text x="391.72" y="213.6" font-size="10.5" text-anchor="middle">200</text>
<text x="435.48" y="213.6" font-size="10.5" text-anchor="middle">300</text>
<text x="479.24" y="213.6" font-size="10.5" text-anchor="middle">400</text>
<text x="523.00" y="213.6" font-size="10.5" text-anchor="middle">500</text>
<text x="425.3" y="232.6" font-size="12" text-anchor="middle">Temperature [°C]</text>
<text transform="translate(296.0,101.9) rotate(-90)" font-size="11.8" text-anchor="middle">Intensity [a.u.]</text>
<text class="serif" x="415.4" y="252.8" font-size="14.5" text-anchor="middle"><tspan font-weight="normal">(</tspan>b<tspan font-weight="normal">)</tspan></text>
<rect x="433.3" y="145.2" width="103.5" height="32.8" fill="#fff" stroke="#8a8a8a" stroke-width="1"/>
<line x1="434.6" y1="151.7" x2="457.6" y2="151.7" stroke="#222" stroke-width="1.7"/>
<line x1="434.6" y1="166.1" x2="457.6" y2="166.1" stroke="#b0b0b0" stroke-width="1.1"/>
<text x="459.9" y="156.2" font-size="10.2">CuO-Bi<tspan font-size="6.4" dy="2.5">2</tspan><tspan dy="-2.5">O</tspan><tspan font-size="6.4" dy="2.5">3</tspan><tspan dy="-2.5">/SiO</tspan><tspan font-size="6.4" dy="2.5">2</tspan></text>
<text x="459.9" y="170.9" font-size="10.2">CuO/SiO<tspan font-size="6.4" dy="2.5">2</tspan></text>
</svg></body></html>
